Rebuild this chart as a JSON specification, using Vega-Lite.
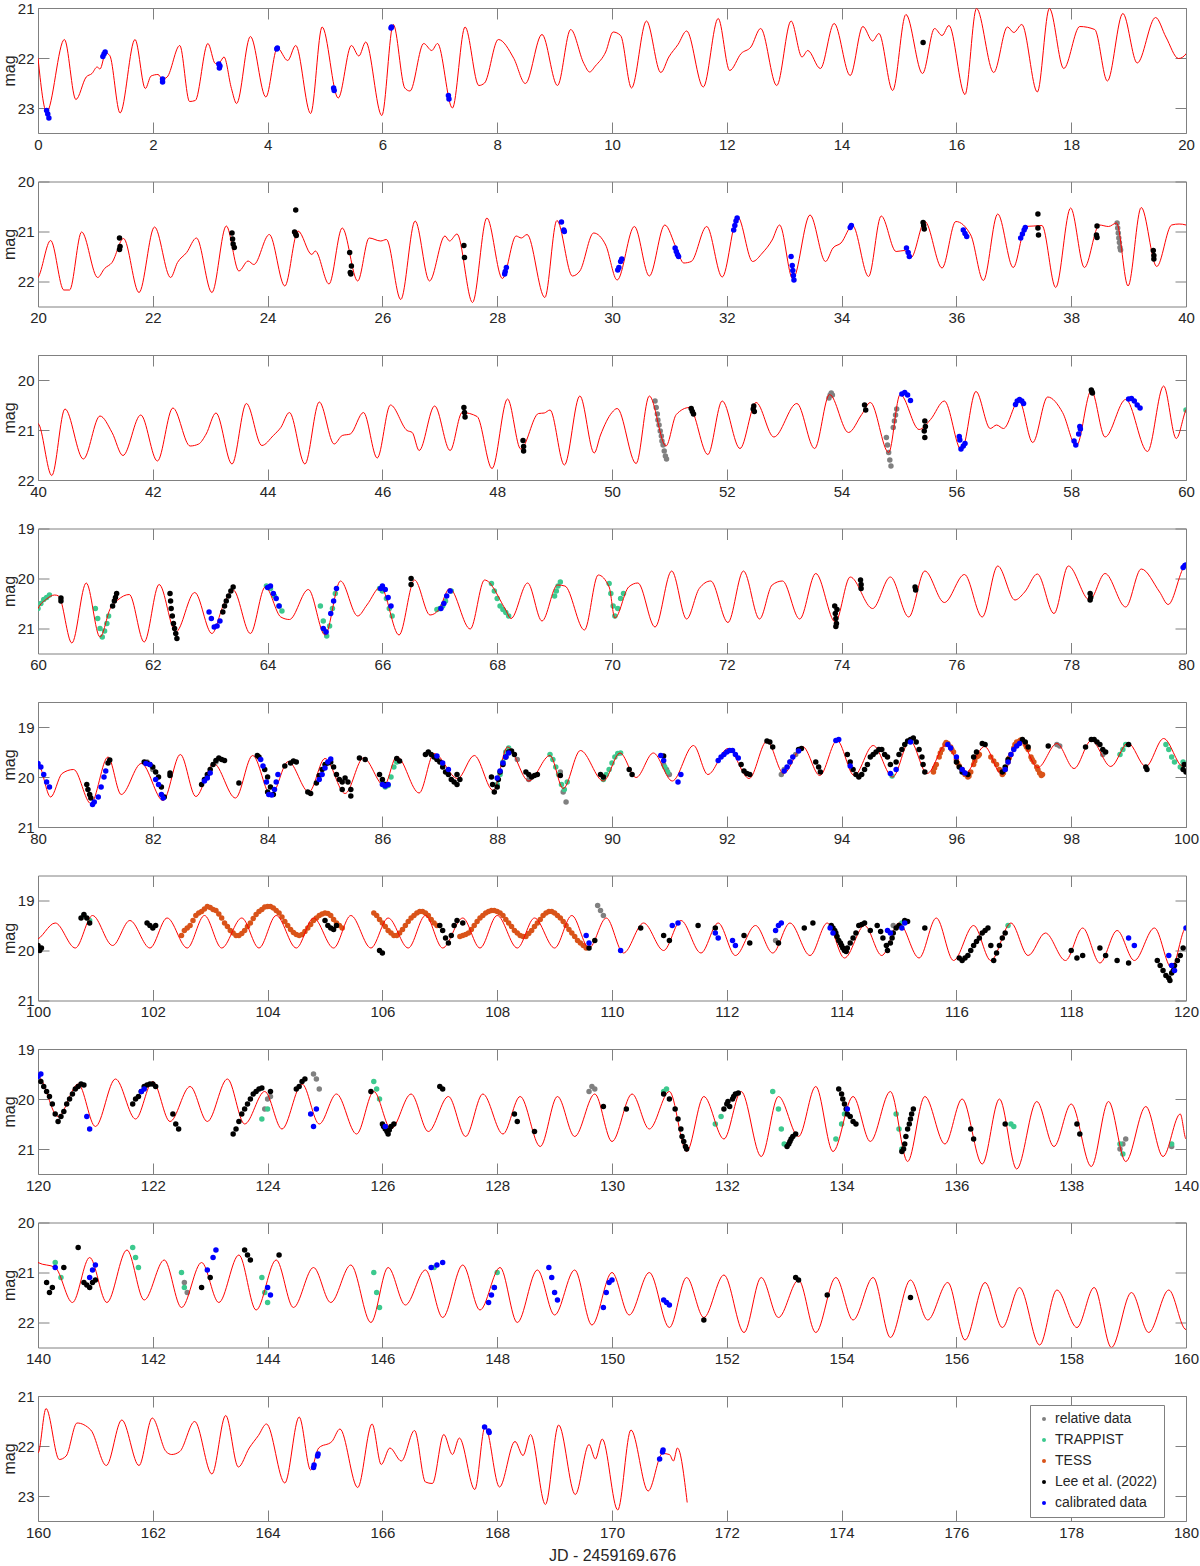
{
"$schema": "https://vega.github.io/schema/vega-lite/v6.json",
"background": "white",
"padding": {"left": 0, "right": 4, "top": 0, "bottom": 0},
"bounds": "flush",
"config": {
  "font": "Liberation Sans",
  "view": {"stroke": "#808080", "strokeWidth": 1},
  "concat": {"spacing": 48.5},
  "axis": {"grid": false, "domain": false, "ticks": true, "tickSize": -11, "tickColor": "#808080", "tickWidth": 1, "labelFont": "Liberation Sans", "labelFontSize": 15, "labelColor": "#262626", "labelFlush": false, "titleFont": "Liberation Sans", "titleFontSize": 16, "titleFontWeight": "normal", "titleColor": "#262626"},
  "axisX": {"labelPadding": 15, "titlePadding": 7},
  "axisY": {"labelPadding": 15, "titlePadding": 0},
  "axisTop": {"labels": false},
  "axisRight": {"labels": false},
  "legend": {"labelFont": "Liberation Sans", "labelFontSize": 14, "labelColor": "#262626", "symbolType": "circle", "symbolSize": 16, "symbolStrokeWidth": 0, "rowPadding": 7, "padding": 7, "strokeColor": "#808080", "fillColor": "white"}
},
"resolve": {"scale": {"color": "independent"}},
"datasets": {
"model": [
{"t":0,"m":22.0},{"t":0.15,"m":23.08},{"t":0.46,"m":21.63},{"t":0.66,"m":22.83},{"t":0.84,"m":22.38},{"t":0.94,"m":22.31},{"t":1.03,"m":22.18},{"t":1.08,"m":22.22},{"t":1.18,"m":21.9},{"t":1.25,"m":21.95},{"t":1.43,"m":23.1},{"t":1.69,"m":21.63},{"t":1.87,"m":22.61},{"t":1.97,"m":22.36},{"t":2.09,"m":22.33},{"t":2.17,"m":22.42},{"t":2.25,"m":22.38},{"t":2.47,"m":21.75},{"t":2.64,"m":22.87},{"t":2.74,"m":22.85},{"t":2.96,"m":21.71},{"t":3.09,"m":22.11},{"t":3.17,"m":22.08},{"t":3.24,"m":21.98},{"t":3.37,"m":22.61},{"t":3.46,"m":22.91},{"t":3.7,"m":21.57},{"t":3.97,"m":22.78},{"t":4.17,"m":21.8},{"t":4.35,"m":22.05},{"t":4.49,"m":21.75},{"t":4.75,"m":23.11},{"t":4.95,"m":21.38},{"t":5.23,"m":22.8},{"t":5.46,"m":21.75},{"t":5.59,"m":21.96},{"t":5.71,"m":21.68},{"t":5.99,"m":23.15},{"t":6.19,"m":21.33},{"t":6.39,"m":22.6},{"t":6.48,"m":22.66},{"t":6.72,"m":21.71},{"t":6.86,"m":21.85},{"t":6.96,"m":21.71},{"t":7.22,"m":23.0},{"t":7.44,"m":21.38},{"t":7.68,"m":22.55},{"t":7.78,"m":22.5},{"t":8.02,"m":21.63},{"t":8.29,"m":22.01},{"t":8.49,"m":22.51},{"t":8.78,"m":21.53},{"t":9.05,"m":22.55},{"t":9.28,"m":21.43},{"t":9.51,"m":22.11},{"t":9.61,"m":22.28},{"t":9.71,"m":22.16},{"t":9.89,"m":21.88},{"t":10.02,"m":21.48},{"t":10.15,"m":21.55},{"t":10.34,"m":22.6},{"t":10.6,"m":21.26},{"t":10.85,"m":22.29},{"t":10.99,"m":21.98},{"t":11.15,"m":21.73},{"t":11.3,"m":21.46},{"t":11.59,"m":22.58},{"t":11.85,"m":21.21},{"t":12.05,"m":22.25},{"t":12.25,"m":21.91},{"t":12.42,"m":21.78},{"t":12.59,"m":21.41},{"t":12.87,"m":22.55},{"t":13.12,"m":21.26},{"t":13.31,"m":21.98},{"t":13.41,"m":21.85},{"t":13.63,"m":22.21},{"t":13.87,"m":21.31},{"t":14.15,"m":22.35},{"t":14.37,"m":21.37},{"t":14.54,"m":21.66},{"t":14.65,"m":21.51},{"t":14.89,"m":22.65},{"t":15.12,"m":21.13},{"t":15.41,"m":22.31},{"t":15.62,"m":21.41},{"t":15.75,"m":21.55},{"t":15.87,"m":21.35},{"t":16.15,"m":22.73},{"t":16.35,"m":21.01},{"t":16.65,"m":22.29},{"t":16.89,"m":21.38},{"t":17.0,"m":21.49},{"t":17.14,"m":21.33},{"t":17.41,"m":22.68},{"t":17.62,"m":21.01},{"t":17.87,"m":22.21},{"t":18.15,"m":21.37},{"t":18.41,"m":21.43},{"t":18.63,"m":22.46},{"t":18.9,"m":21.11},{"t":19.15,"m":22.1},{"t":19.47,"m":21.19},{"t":19.65,"m":21.58},{"t":19.87,"m":22.01},{"t":20.0,"m":21.92},
{"t":20.22,"m":21.18},{"t":20.45,"m":22.17},{"t":20.55,"m":22.17},{"t":20.76,"m":21.01},{"t":21.04,"m":21.92},{"t":21.16,"m":21.74},{"t":21.29,"m":21.62},{"t":21.49,"m":21.14},{"t":21.76,"m":22.22},{"t":22.03,"m":20.91},{"t":22.31,"m":21.92},{"t":22.43,"m":21.62},{"t":22.59,"m":21.42},{"t":22.76,"m":21.13},{"t":23.03,"m":22.22},{"t":23.28,"m":20.89},{"t":23.5,"m":21.79},{"t":23.66,"m":21.59},{"t":23.76,"m":21.66},{"t":24.03,"m":21.06},{"t":24.3,"m":22.09},{"t":24.53,"m":20.99},{"t":24.77,"m":21.46},{"t":24.83,"m":21.39},{"t":25.07,"m":22.05},{"t":25.3,"m":20.93},{"t":25.57,"m":21.99},{"t":25.77,"m":21.13},{"t":25.97,"m":21.19},{"t":26.07,"m":21.16},{"t":26.32,"m":22.36},{"t":26.57,"m":20.79},{"t":26.82,"m":21.99},{"t":27.09,"m":21.09},{"t":27.17,"m":21.19},{"t":27.3,"m":21.05},{"t":27.57,"m":22.42},{"t":27.82,"m":20.73},{"t":28.09,"m":21.94},{"t":28.33,"m":21.09},{"t":28.42,"m":21.13},{"t":28.52,"m":21.06},{"t":28.83,"m":22.32},{"t":29.04,"m":20.78},{"t":29.31,"m":21.89},{"t":29.44,"m":21.79},{"t":29.68,"m":21.03},{"t":29.89,"m":21.27},{"t":30.09,"m":21.97},{"t":30.39,"m":20.9},{"t":30.65,"m":21.89},{"t":30.92,"m":20.87},{"t":31.12,"m":21.33},{"t":31.25,"m":21.63},{"t":31.38,"m":21.6},{"t":31.65,"m":20.9},{"t":31.92,"m":21.91},{"t":32.19,"m":20.71},{"t":32.45,"m":21.6},{"t":32.62,"m":21.43},{"t":32.79,"m":21.17},{"t":32.92,"m":20.87},{"t":33.15,"m":21.95},{"t":33.45,"m":20.67},{"t":33.72,"m":21.6},{"t":33.85,"m":21.33},{"t":33.99,"m":21.23},{"t":34.19,"m":20.88},{"t":34.47,"m":21.9},{"t":34.69,"m":20.69},{"t":34.95,"m":21.4},{"t":35.09,"m":21.38},{"t":35.21,"m":21.52},{"t":35.45,"m":20.8},{"t":35.75,"m":21.73},{"t":35.99,"m":20.8},{"t":36.25,"m":21.07},{"t":36.47,"m":21.98},{"t":36.72,"m":20.65},{"t":36.99,"m":21.72},{"t":37.21,"m":20.9},{"t":37.35,"m":20.89},{"t":37.49,"m":20.88},{"t":37.73,"m":22.12},{"t":37.99,"m":20.53},{"t":38.23,"m":21.72},{"t":38.49,"m":20.87},{"t":38.65,"m":20.9},{"t":38.79,"m":20.83},{"t":38.99,"m":22.09},{"t":39.22,"m":20.52},{"t":39.49,"m":21.7},{"t":39.75,"m":20.87},{"t":39.88,"m":20.85},{"t":40.0,"m":20.87},
{"t":40.24,"m":21.91},{"t":40.47,"m":20.58},{"t":40.79,"m":21.58},{"t":41.08,"m":20.72},{"t":41.29,"m":21.05},{"t":41.48,"m":21.51},{"t":41.79,"m":20.7},{"t":42.08,"m":21.62},{"t":42.35,"m":20.56},{"t":42.65,"m":21.32},{"t":42.8,"m":21.28},{"t":42.93,"m":21.08},{"t":43.1,"m":20.66},{"t":43.38,"m":21.68},{"t":43.63,"m":20.47},{"t":43.9,"m":21.31},{"t":44.1,"m":21.11},{"t":44.23,"m":20.95},{"t":44.38,"m":20.65},{"t":44.65,"m":21.68},{"t":44.9,"m":20.44},{"t":45.16,"m":21.28},{"t":45.3,"m":21.11},{"t":45.44,"m":21.08},{"t":45.67,"m":20.65},{"t":45.91,"m":21.56},{"t":46.14,"m":20.5},{"t":46.43,"m":21.01},{"t":46.52,"m":21.05},{"t":46.64,"m":21.41},{"t":46.91,"m":20.52},{"t":47.18,"m":21.41},{"t":47.39,"m":20.65},{"t":47.65,"m":20.73},{"t":47.91,"m":21.77},{"t":48.18,"m":20.38},{"t":48.41,"m":21.38},{"t":48.72,"m":20.67},{"t":48.82,"m":20.66},{"t":48.92,"m":20.6},{"t":49.17,"m":21.7},{"t":49.44,"m":20.32},{"t":49.69,"m":21.46},{"t":49.8,"m":21.1},{"t":50.0,"m":20.65},{"t":50.09,"m":20.57},{"t":50.42,"m":21.67},{"t":50.65,"m":20.32},{"t":50.94,"m":21.32},{"t":51.12,"m":20.69},{"t":51.35,"m":20.55},{"t":51.67,"m":21.49},{"t":51.92,"m":20.42},{"t":52.23,"m":21.37},{"t":52.51,"m":20.45},{"t":52.82,"m":21.14},{"t":53.22,"m":20.47},{"t":53.53,"m":21.37},{"t":53.79,"m":20.29},{"t":54.12,"m":21.05},{"t":54.35,"m":20.69},{"t":54.5,"m":20.45},{"t":54.82,"m":21.45},{"t":55.02,"m":20.29},{"t":55.35,"m":20.99},{"t":55.55,"m":20.79},{"t":55.79,"m":20.42},{"t":56.09,"m":21.41},{"t":56.34,"m":20.23},{"t":56.59,"m":20.97},{"t":56.7,"m":20.9},{"t":56.82,"m":20.97},{"t":57.09,"m":20.41},{"t":57.33,"m":21.25},{"t":57.59,"m":20.34},{"t":57.85,"m":20.65},{"t":58.09,"m":21.32},{"t":58.35,"m":20.21},{"t":58.59,"m":21.14},{"t":58.95,"m":20.39},{"t":59.33,"m":21.43},{"t":59.61,"m":20.12},{"t":59.83,"m":21.17},{"t":60.0,"m":20.6},
{"t":60.15,"m":20.41},{"t":60.29,"m":20.33},{"t":60.36,"m":20.35},{"t":60.59,"m":21.29},{"t":60.84,"m":20.09},{"t":61.08,"m":21.17},{"t":61.26,"m":20.6},{"t":61.39,"m":20.43},{"t":61.59,"m":20.32},{"t":61.85,"m":21.27},{"t":62.11,"m":20.12},{"t":62.4,"m":21.07},{"t":62.73,"m":20.28},{"t":63.03,"m":21.1},{"t":63.23,"m":20.53},{"t":63.4,"m":20.23},{"t":63.7,"m":21.1},{"t":63.96,"m":20.17},{"t":64.23,"m":20.77},{"t":64.38,"m":20.82},{"t":64.71,"m":20.22},{"t":65.0,"m":21.13},{"t":65.27,"m":20.05},{"t":65.57,"m":20.75},{"t":65.73,"m":20.53},{"t":65.97,"m":20.17},{"t":66.29,"m":21.13},{"t":66.56,"m":20.03},{"t":66.83,"m":20.73},{"t":66.98,"m":20.63},{"t":67.17,"m":20.2},{"t":67.53,"m":21.01},{"t":67.78,"m":20.03},{"t":68.14,"m":20.61},{"t":68.24,"m":20.8},{"t":68.53,"m":20.09},{"t":68.78,"m":20.85},{"t":69.05,"m":20.13},{"t":69.18,"m":20.15},{"t":69.52,"m":21.03},{"t":69.76,"m":19.93},{"t":69.95,"m":20.17},{"t":70.05,"m":20.79},{"t":70.29,"m":20.17},{"t":70.45,"m":20.09},{"t":70.75,"m":20.97},{"t":71.04,"m":19.85},{"t":71.3,"m":20.81},{"t":71.52,"m":20.2},{"t":71.72,"m":20.05},{"t":72.02,"m":20.88},{"t":72.29,"m":19.85},{"t":72.57,"m":20.81},{"t":72.79,"m":20.13},{"t":72.97,"m":20.05},{"t":73.27,"m":20.81},{"t":73.55,"m":19.9},{"t":73.89,"m":20.87},{"t":74.15,"m":19.97},{"t":74.54,"m":20.6},{"t":74.85,"m":19.97},{"t":75.17,"m":20.77},{"t":75.45,"m":19.85},{"t":75.79,"m":20.48},{"t":76.14,"m":19.92},{"t":76.45,"m":20.77},{"t":76.72,"m":19.75},{"t":77.02,"m":20.43},{"t":77.19,"m":20.27},{"t":77.41,"m":19.91},{"t":77.7,"m":20.7},{"t":77.95,"m":19.75},{"t":78.32,"m":20.43},{"t":78.59,"m":19.9},{"t":78.95,"m":20.57},{"t":79.22,"m":19.81},{"t":79.54,"m":20.27},{"t":79.69,"m":20.52},{"t":80.0,"m":19.74},
{"t":80.22,"m":20.4},{"t":80.42,"m":19.93},{"t":80.62,"m":19.85},{"t":80.92,"m":20.53},{"t":81.22,"m":19.6},{"t":81.45,"m":20.35},{"t":81.8,"m":19.73},{"t":82.18,"m":20.47},{"t":82.48,"m":19.55},{"t":82.75,"m":20.39},{"t":83.06,"m":19.73},{"t":83.44,"m":20.42},{"t":83.74,"m":19.57},{"t":84.06,"m":20.37},{"t":84.36,"m":19.69},{"t":84.72,"m":20.3},{"t":85.0,"m":19.63},{"t":85.35,"m":20.33},{"t":85.67,"m":19.62},{"t":86.03,"m":20.17},{"t":86.25,"m":19.59},{"t":86.64,"m":20.32},{"t":86.9,"m":19.53},{"t":87.31,"m":20.03},{"t":87.6,"m":19.57},{"t":87.93,"m":20.27},{"t":88.18,"m":19.4},{"t":88.55,"m":20.08},{"t":88.92,"m":19.57},{"t":89.15,"m":20.23},{"t":89.45,"m":19.47},{"t":89.85,"m":20.08},{"t":90.14,"m":19.52},{"t":90.42,"m":20.01},{"t":90.72,"m":19.52},{"t":91.05,"m":20.08},{"t":91.42,"m":19.37},{"t":91.67,"m":19.95},{"t":92.02,"m":19.43},{"t":92.39,"m":20.03},{"t":92.7,"m":19.28},{"t":92.99,"m":19.93},{"t":93.32,"m":19.39},{"t":93.62,"m":19.97},{"t":93.92,"m":19.27},{"t":94.22,"m":19.97},{"t":94.55,"m":19.37},{"t":94.89,"m":20.0},{"t":95.19,"m":19.27},{"t":95.49,"m":19.93},{"t":95.82,"m":19.35},{"t":96.15,"m":19.93},{"t":96.49,"m":19.39},{"t":96.79,"m":19.95},{"t":97.11,"m":19.27},{"t":97.42,"m":19.81},{"t":97.75,"m":19.33},{"t":98.05,"m":19.83},{"t":98.35,"m":19.27},{"t":98.69,"m":19.79},{"t":98.99,"m":19.32},{"t":99.3,"m":19.79},{"t":99.61,"m":19.23},{"t":99.95,"m":19.79},
{"t":100.3,"m":19.45},{"t":100.65,"m":19.95},{"t":100.95,"m":19.3},{"t":101.3,"m":19.9},{"t":101.6,"m":19.4},{"t":101.95,"m":19.95},{"t":102.25,"m":19.35},{"t":102.6,"m":19.95},{"t":102.9,"m":19.3},{"t":103.2,"m":19.95},{"t":103.55,"m":19.35},{"t":103.85,"m":19.95},{"t":104.15,"m":19.3},{"t":104.5,"m":19.95},{"t":104.8,"m":19.35},{"t":105.15,"m":19.95},{"t":105.45,"m":19.3},{"t":105.8,"m":19.95},{"t":106.1,"m":19.35},{"t":106.45,"m":19.95},{"t":106.75,"m":19.3},{"t":107.05,"m":19.95},{"t":107.4,"m":19.35},{"t":107.7,"m":19.95},{"t":108.0,"m":19.3},{"t":108.35,"m":19.95},{"t":108.65,"m":19.35},{"t":109.0,"m":19.95},{"t":109.3,"m":19.3},{"t":109.6,"m":19.95},{"t":109.9,"m":19.35},{"t":110.2,"m":20.05},{"t":110.55,"m":19.45},{"t":110.9,"m":20.0},{"t":111.2,"m":19.4},{"t":111.55,"m":20.05},{"t":111.85,"m":19.45},{"t":112.15,"m":20.1},{"t":112.5,"m":19.5},{"t":112.8,"m":20.05},{"t":113.1,"m":19.45},{"t":113.45,"m":20.1},{"t":113.75,"m":19.45},{"t":114.05,"m":20.15},{"t":114.4,"m":19.5},{"t":114.7,"m":20.1},{"t":115.0,"m":19.45},{"t":115.35,"m":20.15},{"t":115.65,"m":19.35},{"t":115.95,"m":20.2},{"t":116.3,"m":19.5},{"t":116.6,"m":20.2},{"t":116.95,"m":19.45},{"t":117.25,"m":20.1},{"t":117.55,"m":19.65},{"t":117.9,"m":20.2},{"t":118.2,"m":19.55},{"t":118.5,"m":20.25},{"t":118.8,"m":19.6},{"t":119.1,"m":20.2},{"t":119.45,"m":19.55},{"t":119.75,"m":20.35},{"t":120.0,"m":19.55},
{"t":120.35,"m":20.35},{"t":120.7,"m":19.7},{"t":121.0,"m":20.55},{"t":121.35,"m":19.6},{"t":121.7,"m":20.4},{"t":122.0,"m":19.65},{"t":122.3,"m":20.45},{"t":122.65,"m":19.75},{"t":122.95,"m":20.45},{"t":123.3,"m":19.6},{"t":123.6,"m":20.5},{"t":123.95,"m":19.85},{"t":124.25,"m":20.6},{"t":124.6,"m":19.7},{"t":124.9,"m":20.5},{"t":125.2,"m":19.9},{"t":125.55,"m":20.7},{"t":125.85,"m":19.85},{"t":126.15,"m":20.6},{"t":126.5,"m":19.9},{"t":126.8,"m":20.65},{"t":127.15,"m":19.95},{"t":127.45,"m":20.75},{"t":127.75,"m":19.9},{"t":128.1,"m":20.7},{"t":128.4,"m":19.95},{"t":128.75,"m":20.95},{"t":129.05,"m":19.95},{"t":129.35,"m":20.75},{"t":129.7,"m":19.9},{"t":130.0,"m":20.85},{"t":130.35,"m":19.9},{"t":130.65,"m":20.6},{"t":131.0,"m":19.85},{"t":131.3,"m":21.05},{"t":131.6,"m":19.95},{"t":131.95,"m":20.8},{"t":132.25,"m":19.85},{"t":132.6,"m":21.15},{"t":132.9,"m":19.95},{"t":133.25,"m":20.75},{"t":133.55,"m":19.75},{"t":133.85,"m":21.05},{"t":134.2,"m":19.95},{"t":134.5,"m":20.85},{"t":134.85,"m":19.85},{"t":135.15,"m":21.25},{"t":135.45,"m":19.95},{"t":135.8,"m":20.9},{"t":136.1,"m":20.0},{"t":136.45,"m":21.3},{"t":136.75,"m":20.0},{"t":137.05,"m":21.4},{"t":137.4,"m":20.05},{"t":137.7,"m":20.95},{"t":138.0,"m":20.1},{"t":138.35,"m":21.35},{"t":138.65,"m":20.05},{"t":138.95,"m":21.25},{"t":139.3,"m":20.15},{"t":139.6,"m":21.15},{"t":139.9,"m":20.3},{"t":140.0,"m":20.8},
{"t":140.3,"m":20.9},{"t":140.6,"m":21.6},{"t":140.9,"m":20.7},{"t":141.2,"m":21.6},{"t":141.55,"m":20.55},{"t":141.85,"m":21.55},{"t":142.2,"m":20.75},{"t":142.5,"m":21.7},{"t":142.85,"m":20.8},{"t":143.15,"m":21.6},{"t":143.5,"m":20.65},{"t":143.8,"m":21.75},{"t":144.15,"m":20.75},{"t":144.45,"m":21.7},{"t":144.8,"m":20.9},{"t":145.1,"m":21.6},{"t":145.45,"m":20.85},{"t":145.8,"m":22.0},{"t":146.1,"m":20.9},{"t":146.4,"m":21.65},{"t":146.75,"m":20.95},{"t":147.05,"m":21.9},{"t":147.4,"m":20.85},{"t":147.7,"m":21.75},{"t":148.05,"m":20.9},{"t":148.35,"m":22.0},{"t":148.7,"m":20.95},{"t":149.0,"m":21.85},{"t":149.35,"m":20.95},{"t":149.65,"m":22.05},{"t":150.0,"m":21.0},{"t":150.3,"m":21.85},{"t":150.65,"m":21.0},{"t":151.0,"m":22.1},{"t":151.3,"m":21.1},{"t":151.6,"m":21.9},{"t":151.95,"m":21.05},{"t":152.3,"m":22.2},{"t":152.6,"m":21.1},{"t":152.9,"m":21.9},{"t":153.25,"m":21.15},{"t":153.55,"m":22.2},{"t":153.9,"m":21.1},{"t":154.2,"m":21.95},{"t":154.55,"m":21.1},{"t":154.85,"m":22.3},{"t":155.2,"m":21.15},{"t":155.5,"m":21.95},{"t":155.85,"m":21.2},{"t":156.15,"m":22.35},{"t":156.5,"m":21.2},{"t":156.8,"m":22.1},{"t":157.1,"m":21.3},{"t":157.45,"m":22.45},{"t":157.75,"m":21.35},{"t":158.1,"m":22.1},{"t":158.4,"m":21.3},{"t":158.7,"m":22.5},{"t":159.05,"m":21.4},{"t":159.35,"m":22.2},{"t":159.7,"m":21.35},{"t":160.0,"m":22.14},
{"t":160.14,"m":21.25},{"t":160.37,"m":22.27},{"t":160.49,"m":22.2},{"t":160.68,"m":21.54},{"t":160.92,"m":21.68},{"t":161.19,"m":22.39},{"t":161.46,"m":21.48},{"t":161.76,"m":22.39},{"t":161.99,"m":21.44},{"t":162.23,"m":22.11},{"t":162.33,"m":22.17},{"t":162.47,"m":22.11},{"t":162.73,"m":21.51},{"t":163.03,"m":22.56},{"t":163.27,"m":21.39},{"t":163.49,"m":22.42},{"t":163.68,"m":22.04},{"t":163.84,"m":21.79},{"t":163.98,"m":21.56},{"t":164.3,"m":22.74},{"t":164.55,"m":21.42},{"t":164.75,"m":22.48},{"t":164.89,"m":22.04},{"t":165.12,"m":21.91},{"t":165.26,"m":21.66},{"t":165.57,"m":22.83},{"t":165.82,"m":21.56},{"t":165.98,"m":22.37},{"t":166.13,"m":22.04},{"t":166.33,"m":22.3},{"t":166.56,"m":21.69},{"t":166.75,"m":22.72},{"t":166.87,"m":22.75},{"t":167.07,"m":21.77},{"t":167.22,"m":22.17},{"t":167.34,"m":21.84},{"t":167.61,"m":22.87},{"t":167.79,"m":21.61},{"t":168.04,"m":22.82},{"t":168.31,"m":21.91},{"t":168.45,"m":22.19},{"t":168.58,"m":21.77},{"t":168.84,"m":23.17},{"t":169.07,"m":21.58},{"t":169.36,"m":22.97},{"t":169.6,"m":21.97},{"t":169.71,"m":22.26},{"t":169.83,"m":21.86},{"t":170.1,"m":23.28},{"t":170.33,"m":21.68},{"t":170.63,"m":22.9},{"t":170.88,"m":22.15},{"t":171.0,"m":22.17},{"t":171.07,"m":22.3},{"t":171.14,"m":22.04},{"t":171.31,"m":23.13}
],
"obs": [
{"t":38.8,"m":20.83,"s":"R"},{"t":38.81,"m":20.93,"s":"R"},{"t":38.82,"m":21.03,"s":"R"},{"t":38.83,"m":21.13,"s":"R"},{"t":38.84,"m":21.22,"s":"R"},{"t":38.85,"m":21.32,"s":"R"},{"t":38.86,"m":21.37,"s":"R"},
{"t":50.75,"m":20.42,"s":"R"},{"t":50.77,"m":20.55,"s":"R"},{"t":50.79,"m":20.68,"s":"R"},{"t":50.8,"m":20.8,"s":"R"},{"t":50.82,"m":20.9,"s":"R"},{"t":50.84,"m":21.02,"s":"R"},{"t":50.86,"m":21.12,"s":"R"},{"t":50.87,"m":21.22,"s":"R"},{"t":50.89,"m":21.3,"s":"R"},{"t":50.91,"m":21.42,"s":"R"},{"t":50.93,"m":21.52,"s":"R"},{"t":50.95,"m":21.58,"s":"R"},
{"t":53.78,"m":20.36,"s":"R"},{"t":53.8,"m":20.3,"s":"R"},{"t":53.82,"m":20.26,"s":"R"},{"t":53.84,"m":20.3,"s":"R"},
{"t":54.78,"m":21.15,"s":"R"},{"t":54.8,"m":21.3,"s":"R"},{"t":54.82,"m":21.45,"s":"R"},{"t":54.84,"m":21.6,"s":"R"},{"t":54.86,"m":21.72,"s":"R"},{"t":54.9,"m":20.95,"s":"R"},{"t":54.92,"m":20.82,"s":"R"},{"t":54.94,"m":20.7,"s":"R"},{"t":54.96,"m":20.58,"s":"R"},
{"t":81.9,"m":19.7,"s":"R"},{"t":82.0,"m":19.85,"s":"R"},{"t":82.95,"m":20.0,"s":"R"},{"t":83.1,"m":19.7,"s":"R"},{"t":88.35,"m":19.65,"s":"R"},{"t":88.55,"m":20.05,"s":"R"},{"t":89.15,"m":20.3,"s":"R"},{"t":89.2,"m":20.5,"s":"R"},{"t":89.1,"m":19.9,"s":"R"},{"t":90.9,"m":19.75,"s":"R"},{"t":90.95,"m":19.85,"s":"R"},{"t":91.0,"m":19.95,"s":"R"},{"t":92.95,"m":19.95,"s":"R"},{"t":93.0,"m":19.85,"s":"R"},{"t":93.1,"m":19.7,"s":"R"},{"t":93.2,"m":19.55,"s":"R"},{"t":97.75,"m":19.35,"s":"R"},{"t":97.8,"m":19.38,"s":"R"},{"t":98.55,"m":19.55,"s":"R"},
{"t":109.75,"m":19.1,"s":"R"},{"t":109.8,"m":19.2,"s":"R"},{"t":109.85,"m":19.3,"s":"R"},{"t":112.85,"m":19.8,"s":"R"},{"t":112.9,"m":19.85,"s":"R"},{"t":114.9,"m":19.5,"s":"R"},
{"t":123.95,"m":20.2,"s":"R"},{"t":124.0,"m":20.0,"s":"R"},{"t":124.05,"m":19.95,"s":"R"},{"t":124.8,"m":19.5,"s":"R"},{"t":124.85,"m":19.6,"s":"R"},{"t":124.9,"m":19.8,"s":"R"},{"t":129.6,"m":19.85,"s":"R"},{"t":129.65,"m":19.75,"s":"R"},{"t":129.7,"m":19.8,"s":"R"},{"t":138.85,"m":21.0,"s":"R"},{"t":138.9,"m":20.9,"s":"R"},{"t":138.95,"m":20.8,"s":"R"},{"t":139.75,"m":20.95,"s":"R"},{"t":142.55,"m":21.2,"s":"R"},{"t":142.6,"m":21.4,"s":"R"},
{"t":60.0,"m":20.6,"s":"T"},{"t":60.05,"m":20.5,"s":"T"},{"t":60.1,"m":20.42,"s":"T"},{"t":60.15,"m":20.38,"s":"T"},{"t":60.2,"m":20.33,"s":"T"},
{"t":61.0,"m":20.6,"s":"T"},{"t":61.04,"m":20.8,"s":"T"},{"t":61.08,"m":21.0,"s":"T"},{"t":61.12,"m":21.17,"s":"T"},{"t":61.16,"m":21.05,"s":"T"},{"t":61.2,"m":20.9,"s":"T"},{"t":61.23,"m":20.75,"s":"T"},
{"t":63.98,"m":20.15,"s":"T"},{"t":64.05,"m":20.2,"s":"T"},{"t":64.12,"m":20.35,"s":"T"},{"t":64.2,"m":20.55,"s":"T"},{"t":64.25,"m":20.65,"s":"T"},
{"t":64.92,"m":20.55,"s":"T"},{"t":64.97,"m":20.85,"s":"T"},{"t":65.0,"m":21.05,"s":"T"},{"t":65.03,"m":21.15,"s":"T"},{"t":65.08,"m":20.95,"s":"T"},{"t":65.13,"m":20.6,"s":"T"},{"t":65.18,"m":20.3,"s":"T"},
{"t":65.95,"m":20.2,"s":"T"},{"t":66.0,"m":20.25,"s":"T"},{"t":66.07,"m":20.4,"s":"T"},{"t":66.12,"m":20.6,"s":"T"},{"t":66.17,"m":20.75,"s":"T"},
{"t":66.95,"m":20.62,"s":"T"},{"t":67.0,"m":20.6,"s":"T"},{"t":67.05,"m":20.55,"s":"T"},{"t":67.1,"m":20.45,"s":"T"},{"t":67.2,"m":20.25,"s":"T"},
{"t":67.9,"m":20.1,"s":"T"},{"t":67.95,"m":20.25,"s":"T"},{"t":68.0,"m":20.4,"s":"T"},{"t":68.05,"m":20.55,"s":"T"},{"t":68.1,"m":20.62,"s":"T"},{"t":68.15,"m":20.68,"s":"T"},{"t":68.2,"m":20.75,"s":"T"},
{"t":69.0,"m":20.35,"s":"T"},{"t":69.03,"m":20.25,"s":"T"},{"t":69.06,"m":20.15,"s":"T"},{"t":69.1,"m":20.07,"s":"T"},
{"t":69.95,"m":20.1,"s":"T"},{"t":69.98,"m":20.3,"s":"T"},{"t":70.02,"m":20.55,"s":"T"},{"t":70.05,"m":20.75,"s":"T"},{"t":70.1,"m":20.6,"s":"T"},{"t":70.15,"m":20.4,"s":"T"},{"t":70.2,"m":20.3,"s":"T"},
{"t":86.0,"m":20.1,"s":"T"},{"t":86.05,"m":20.2,"s":"T"},{"t":86.1,"m":20.17,"s":"T"},{"t":86.15,"m":20.0,"s":"T"},{"t":86.2,"m":19.8,"s":"T"},{"t":86.25,"m":19.7,"s":"T"},
{"t":88.0,"m":20.15,"s":"T"},{"t":88.05,"m":19.95,"s":"T"},{"t":88.1,"m":19.7,"s":"T"},{"t":88.15,"m":19.5,"s":"T"},{"t":88.2,"m":19.42,"s":"T"},
{"t":88.92,"m":19.55,"s":"T"},{"t":88.97,"m":19.65,"s":"T"},{"t":89.02,"m":19.8,"s":"T"},{"t":89.07,"m":19.95,"s":"T"},{"t":89.12,"m":20.15,"s":"T"},{"t":89.17,"m":20.25,"s":"T"},{"t":89.22,"m":20.1,"s":"T"},
{"t":89.85,"m":20.05,"s":"T"},{"t":89.9,"m":19.95,"s":"T"},{"t":89.95,"m":19.85,"s":"T"},{"t":90.0,"m":19.72,"s":"T"},{"t":90.05,"m":19.6,"s":"T"},{"t":90.1,"m":19.53,"s":"T"},{"t":90.15,"m":19.52,"s":"T"},
{"t":90.92,"m":19.8,"s":"T"},{"t":90.97,"m":19.9,"s":"T"},{"t":94.88,"m":19.98,"s":"T"},{"t":98.85,"m":19.55,"s":"T"},{"t":98.9,"m":19.45,"s":"T"},{"t":98.95,"m":19.35,"s":"T"},
{"t":99.65,"m":19.35,"s":"T"},{"t":99.7,"m":19.45,"s":"T"},{"t":99.75,"m":19.6,"s":"T"},{"t":99.8,"m":19.7,"s":"T"},{"t":99.9,"m":19.8,"s":"T"},{"t":99.95,"m":19.7,"s":"T"},
{"t":100.8,"m":19.3,"s":"T"},{"t":100.9,"m":19.4,"s":"T"},{"t":115.05,"m":19.45,"s":"T"},{"t":116.9,"m":19.5,"s":"T"},
{"t":123.9,"m":20.4,"s":"T"},{"t":124.0,"m":20.2,"s":"T"},{"t":125.85,"m":19.65,"s":"T"},{"t":125.9,"m":19.8,"s":"T"},{"t":125.95,"m":20.0,"s":"T"},{"t":130.9,"m":19.85,"s":"T"},{"t":130.95,"m":19.8,"s":"T"},{"t":131.8,"m":20.5,"s":"T"},{"t":131.9,"m":20.35,"s":"T"},{"t":132.8,"m":19.85,"s":"T"},{"t":132.9,"m":20.2,"s":"T"},{"t":132.95,"m":20.6,"s":"T"},{"t":133.0,"m":20.9,"s":"T"},{"t":133.9,"m":20.8,"s":"T"},{"t":134.0,"m":20.5,"s":"T"},{"t":134.05,"m":20.3,"s":"T"},{"t":134.95,"m":20.3,"s":"T"},{"t":135.0,"m":20.6,"s":"T"},{"t":135.05,"m":21.0,"s":"T"},{"t":136.95,"m":20.5,"s":"T"},{"t":137.0,"m":20.55,"s":"T"},{"t":138.85,"m":20.9,"s":"T"},{"t":138.9,"m":21.1,"s":"T"},{"t":139.75,"m":20.9,"s":"T"},
{"t":140.3,"m":20.8,"s":"T"},{"t":140.4,"m":21.1,"s":"T"},{"t":141.65,"m":20.5,"s":"T"},{"t":141.7,"m":20.7,"s":"T"},{"t":141.75,"m":20.9,"s":"T"},{"t":142.5,"m":21.0,"s":"T"},{"t":142.55,"m":21.3,"s":"T"},{"t":143.9,"m":21.1,"s":"T"},{"t":143.95,"m":21.4,"s":"T"},{"t":144.0,"m":21.6,"s":"T"},{"t":145.85,"m":21.0,"s":"T"},{"t":145.9,"m":21.4,"s":"T"},{"t":145.95,"m":21.7,"s":"T"},{"t":146.9,"m":20.9,"s":"T"},{"t":147.95,"m":21.3,"s":"T"},{"t":148.0,"m":21.0,"s":"T"},
{"t":95.6,"m":19.9,"s":"S"},{"t":95.65,"m":19.75,"s":"S"},{"t":95.7,"m":19.6,"s":"S"},{"t":95.75,"m":19.45,"s":"S"},{"t":95.8,"m":19.35,"s":"S"},{"t":95.85,"m":19.33,"s":"S"},{"t":95.9,"m":19.4,"s":"S"},{"t":95.95,"m":19.5,"s":"S"},{"t":96.0,"m":19.65,"s":"S"},{"t":96.05,"m":19.78,"s":"S"},{"t":96.1,"m":19.85,"s":"S"},{"t":96.15,"m":19.95,"s":"S"},{"t":96.2,"m":20.0,"s":"S"},{"t":96.25,"m":19.9,"s":"S"},{"t":96.3,"m":19.75,"s":"S"},{"t":96.35,"m":19.6,"s":"S"},{"t":96.4,"m":19.55,"s":"S"},
{"t":96.6,"m":19.6,"s":"S"},{"t":96.7,"m":19.75,"s":"S"},{"t":96.8,"m":19.95,"s":"S"},{"t":96.85,"m":19.85,"s":"S"},{"t":96.9,"m":19.7,"s":"S"},{"t":96.95,"m":19.55,"s":"S"},{"t":97.0,"m":19.42,"s":"S"},{"t":97.05,"m":19.3,"s":"S"},{"t":97.1,"m":19.28,"s":"S"},{"t":97.15,"m":19.28,"s":"S"},{"t":97.2,"m":19.35,"s":"S"},{"t":97.25,"m":19.45,"s":"S"},{"t":97.3,"m":19.6,"s":"S"},{"t":97.35,"m":19.7,"s":"S"},{"t":97.4,"m":19.8,"s":"S"},{"t":97.45,"m":19.92,"s":"S"},{"t":97.5,"m":19.95,"s":"S"},
{"t":95.62,"m":19.82,"s":"S"},{"t":95.72,"m":19.52,"s":"S"},{"t":95.82,"m":19.31,"s":"S"},{"t":95.92,"m":19.45,"s":"S"},{"t":96.02,"m":19.72,"s":"S"},{"t":96.12,"m":19.9,"s":"S"},{"t":96.22,"m":19.98,"s":"S"},{"t":96.32,"m":19.68,"s":"S"},{"t":96.38,"m":19.58,"s":"S"},{"t":96.65,"m":19.68,"s":"S"},{"t":96.75,"m":19.85,"s":"S"},{"t":96.82,"m":19.92,"s":"S"},{"t":96.92,"m":19.62,"s":"S"},{"t":97.02,"m":19.35,"s":"S"},{"t":97.12,"m":19.26,"s":"S"},{"t":97.22,"m":19.4,"s":"S"},{"t":97.32,"m":19.65,"s":"S"},{"t":97.42,"m":19.85,"s":"S"},{"t":97.48,"m":19.97,"s":"S"},
{"t":102.5,"m":19.7,"s":"S"},{"t":102.6,"m":19.55,"s":"S"},{"t":102.7,"m":19.4,"s":"S"},{"t":102.8,"m":19.25,"s":"S"},{"t":102.9,"m":19.17,"s":"S"},{"t":103.0,"m":19.14,"s":"S"},{"t":103.1,"m":19.2,"s":"S"},{"t":103.2,"m":19.35,"s":"S"},{"t":103.3,"m":19.52,"s":"S"},{"t":103.4,"m":19.65,"s":"S"},{"t":103.5,"m":19.7,"s":"S"},{"t":103.6,"m":19.6,"s":"S"},{"t":103.7,"m":19.45,"s":"S"},{"t":103.8,"m":19.28,"s":"S"},{"t":103.9,"m":19.18,"s":"S"},{"t":104.0,"m":19.12,"s":"S"},{"t":104.1,"m":19.15,"s":"S"},{"t":104.2,"m":19.25,"s":"S"},{"t":104.3,"m":19.42,"s":"S"},{"t":104.4,"m":19.58,"s":"S"},{"t":104.5,"m":19.68,"s":"S"},{"t":104.6,"m":19.68,"s":"S"},{"t":104.7,"m":19.55,"s":"S"},{"t":104.8,"m":19.4,"s":"S"},{"t":104.9,"m":19.3,"s":"S"},{"t":105.0,"m":19.25,"s":"S"},{"t":105.1,"m":19.3,"s":"S"},{"t":105.2,"m":19.45,"s":"S"},{"t":105.9,"m":19.3,"s":"S"},{"t":106.0,"m":19.45,"s":"S"},{"t":106.1,"m":19.6,"s":"S"},{"t":106.2,"m":19.7,"s":"S"},{"t":106.3,"m":19.65,"s":"S"},{"t":106.4,"m":19.5,"s":"S"},{"t":106.5,"m":19.35,"s":"S"},{"t":106.6,"m":19.25,"s":"S"},{"t":106.7,"m":19.22,"s":"S"},{"t":106.8,"m":19.3,"s":"S"},{"t":106.9,"m":19.45,"s":"S"},{"t":107.4,"m":19.7,"s":"S"},{"t":107.5,"m":19.65,"s":"S"},{"t":107.6,"m":19.5,"s":"S"},{"t":107.7,"m":19.35,"s":"S"},{"t":107.8,"m":19.25,"s":"S"},{"t":107.9,"m":19.2,"s":"S"},{"t":108.0,"m":19.22,"s":"S"},{"t":108.1,"m":19.3,"s":"S"},{"t":108.2,"m":19.45,"s":"S"},{"t":108.3,"m":19.6,"s":"S"},{"t":108.4,"m":19.7,"s":"S"},{"t":108.5,"m":19.72,"s":"S"},{"t":108.6,"m":19.6,"s":"S"},{"t":108.7,"m":19.45,"s":"S"},{"t":108.8,"m":19.3,"s":"S"},{"t":108.9,"m":19.22,"s":"S"},{"t":109.0,"m":19.25,"s":"S"},{"t":109.1,"m":19.35,"s":"S"},{"t":109.2,"m":19.5,"s":"S"},{"t":109.3,"m":19.65,"s":"S"},{"t":109.4,"m":19.8,"s":"S"},{"t":109.5,"m":19.9,"s":"S"},
{"t":102.55,"m":19.6,"s":"S"},{"t":102.65,"m":19.5,"s":"S"},{"t":102.75,"m":19.3,"s":"S"},{"t":102.85,"m":19.22,"s":"S"},{"t":102.95,"m":19.12,"s":"S"},{"t":103.05,"m":19.18,"s":"S"},{"t":103.15,"m":19.27,"s":"S"},{"t":103.25,"m":19.45,"s":"S"},{"t":103.35,"m":19.6,"s":"S"},{"t":103.45,"m":19.7,"s":"S"},{"t":103.55,"m":19.66,"s":"S"},{"t":103.65,"m":19.52,"s":"S"},{"t":103.75,"m":19.36,"s":"S"},{"t":103.85,"m":19.22,"s":"S"},{"t":103.95,"m":19.13,"s":"S"},{"t":104.05,"m":19.12,"s":"S"},{"t":104.15,"m":19.2,"s":"S"},{"t":104.25,"m":19.33,"s":"S"},{"t":104.35,"m":19.5,"s":"S"},{"t":104.45,"m":19.64,"s":"S"},{"t":104.55,"m":19.7,"s":"S"},{"t":104.65,"m":19.62,"s":"S"},{"t":104.75,"m":19.48,"s":"S"},{"t":104.85,"m":19.35,"s":"S"},{"t":104.95,"m":19.27,"s":"S"},{"t":105.05,"m":19.26,"s":"S"},{"t":105.15,"m":19.38,"s":"S"},{"t":105.25,"m":19.5,"s":"S"},{"t":105.3,"m":19.55,"s":"S"},{"t":105.85,"m":19.25,"s":"S"},{"t":105.95,"m":19.38,"s":"S"},{"t":106.05,"m":19.52,"s":"S"},{"t":106.15,"m":19.65,"s":"S"},{"t":106.25,"m":19.7,"s":"S"},{"t":106.35,"m":19.58,"s":"S"},{"t":106.45,"m":19.42,"s":"S"},{"t":106.55,"m":19.3,"s":"S"},{"t":106.65,"m":19.22,"s":"S"},{"t":106.75,"m":19.25,"s":"S"},{"t":106.85,"m":19.38,"s":"S"},{"t":106.95,"m":19.5,"s":"S"},{"t":107.35,"m":19.72,"s":"S"},{"t":107.45,"m":19.68,"s":"S"},{"t":107.55,"m":19.58,"s":"S"},{"t":107.65,"m":19.42,"s":"S"},{"t":107.75,"m":19.3,"s":"S"},{"t":107.85,"m":19.22,"s":"S"},{"t":107.95,"m":19.2,"s":"S"},{"t":108.05,"m":19.25,"s":"S"},{"t":108.15,"m":19.38,"s":"S"},{"t":108.25,"m":19.52,"s":"S"},{"t":108.35,"m":19.65,"s":"S"},{"t":108.45,"m":19.72,"s":"S"},{"t":108.55,"m":19.66,"s":"S"},{"t":108.65,"m":19.52,"s":"S"},{"t":108.75,"m":19.38,"s":"S"},{"t":108.85,"m":19.25,"s":"S"},{"t":108.95,"m":19.22,"s":"S"},{"t":109.05,"m":19.3,"s":"S"},{"t":109.15,"m":19.42,"s":"S"},{"t":109.25,"m":19.58,"s":"S"},{"t":109.35,"m":19.72,"s":"S"},{"t":109.45,"m":19.85,"s":"S"},{"t":109.55,"m":19.95,"s":"S"},
{"t":15.42,"m":21.69,"s":"L"},
{"t":21.42,"m":21.13,"s":"L"},{"t":21.42,"m":21.36,"s":"L"},{"t":21.43,"m":21.3,"s":"L"},{"t":23.38,"m":21.03,"s":"L"},{"t":23.39,"m":21.15,"s":"L"},{"t":23.4,"m":21.25,"s":"L"},{"t":23.42,"m":21.32,"s":"L"},{"t":24.47,"m":21.01,"s":"L"},{"t":24.49,"m":21.05,"s":"L"},{"t":24.5,"m":21.08,"s":"L"},{"t":24.49,"m":20.57,"s":"L"},{"t":25.43,"m":21.42,"s":"L"},{"t":25.44,"m":21.82,"s":"L"},{"t":25.45,"m":21.85,"s":"L"},{"t":25.46,"m":21.69,"s":"L"},{"t":27.42,"m":21.28,"s":"L"},{"t":27.43,"m":21.52,"s":"L"},
{"t":35.42,"m":20.82,"s":"L"},{"t":35.43,"m":20.88,"s":"L"},{"t":35.44,"m":20.95,"s":"L"},{"t":37.42,"m":20.65,"s":"L"},{"t":37.42,"m":20.93,"s":"L"},{"t":37.43,"m":21.07,"s":"L"},{"t":38.45,"m":20.89,"s":"L"},{"t":38.44,"m":21.07,"s":"L"},{"t":38.45,"m":21.12,"s":"L"},{"t":39.43,"m":21.38,"s":"L"},{"t":39.44,"m":21.48,"s":"L"},{"t":39.44,"m":21.55,"s":"L"},
{"t":47.42,"m":20.55,"s":"L"},{"t":47.43,"m":20.65,"s":"L"},{"t":47.44,"m":20.74,"s":"L"},{"t":48.45,"m":21.21,"s":"L"},{"t":48.46,"m":21.33,"s":"L"},{"t":48.46,"m":21.42,"s":"L"},{"t":51.38,"m":20.57,"s":"L"},{"t":51.4,"m":20.63,"s":"L"},{"t":51.42,"m":20.68,"s":"L"},{"t":52.46,"m":20.58,"s":"L"},{"t":52.47,"m":20.52,"s":"L"},{"t":52.48,"m":20.63,"s":"L"},{"t":54.4,"m":20.5,"s":"L"},{"t":54.42,"m":20.6,"s":"L"},{"t":55.45,"m":20.82,"s":"L"},{"t":55.46,"m":20.93,"s":"L"},{"t":55.44,"m":21.02,"s":"L"},{"t":55.45,"m":21.15,"s":"L"},{"t":58.35,"m":20.2,"s":"L"},{"t":58.36,"m":20.23,"s":"L"},{"t":58.37,"m":20.26,"s":"L"},
{"t":60.4,"m":20.39,"s":"L"},{"t":60.4,"m":20.45,"s":"L"},{"t":61.3,"m":20.55,"s":"L"},{"t":61.33,"m":20.45,"s":"L"},{"t":61.35,"m":20.38,"s":"L"},{"t":61.37,"m":20.3,"s":"L"},{"t":62.3,"m":20.3,"s":"L"},{"t":62.31,"m":20.45,"s":"L"},{"t":62.32,"m":20.6,"s":"L"},{"t":62.34,"m":20.75,"s":"L"},{"t":62.36,"m":20.9,"s":"L"},{"t":62.38,"m":21.0,"s":"L"},{"t":62.4,"m":21.1,"s":"L"},{"t":62.42,"m":21.2,"s":"L"},{"t":63.22,"m":20.67,"s":"L"},{"t":63.25,"m":20.55,"s":"L"},{"t":63.28,"m":20.45,"s":"L"},{"t":63.32,"m":20.35,"s":"L"},{"t":63.36,"m":20.25,"s":"L"},{"t":63.4,"m":20.17,"s":"L"},{"t":66.5,"m":20.0,"s":"L"},{"t":66.5,"m":20.12,"s":"L"},
{"t":73.88,"m":20.55,"s":"L"},{"t":73.89,"m":20.7,"s":"L"},{"t":73.9,"m":20.8,"s":"L"},{"t":73.91,"m":20.9,"s":"L"},{"t":73.9,"m":20.96,"s":"L"},{"t":73.92,"m":20.62,"s":"L"},{"t":74.33,"m":20.03,"s":"L"},{"t":74.34,"m":20.12,"s":"L"},{"t":74.34,"m":20.2,"s":"L"},{"t":75.28,"m":20.17,"s":"L"},{"t":75.29,"m":20.23,"s":"L"},{"t":78.33,"m":20.3,"s":"L"},{"t":78.34,"m":20.38,"s":"L"},{"t":78.33,"m":20.43,"s":"L"},
{"t":80.85,"m":20.15,"s":"L"},{"t":80.87,"m":20.25,"s":"L"},{"t":80.9,"m":20.35,"s":"L"},{"t":80.92,"m":20.42,"s":"L"},{"t":81.22,"m":19.72,"s":"L"},{"t":81.25,"m":19.66,"s":"L"},
{"t":81.85,"m":19.7,"s":"L"},{"t":81.9,"m":19.72,"s":"L"},{"t":81.95,"m":19.75,"s":"L"},{"t":82.0,"m":19.8,"s":"L"},{"t":82.05,"m":19.9,"s":"L"},{"t":82.1,"m":20.0,"s":"L"},{"t":82.15,"m":20.2,"s":"L"},{"t":82.2,"m":20.4,"s":"L"},{"t":82.3,"m":19.92,"s":"L"},{"t":82.3,"m":19.97,"s":"L"},
{"t":82.85,"m":20.15,"s":"L"},{"t":82.9,"m":20.05,"s":"L"},{"t":82.95,"m":19.95,"s":"L"},{"t":83.0,"m":19.85,"s":"L"},{"t":83.05,"m":19.75,"s":"L"},{"t":83.1,"m":19.67,"s":"L"},{"t":83.15,"m":19.62,"s":"L"},{"t":83.2,"m":19.65,"s":"L"},{"t":83.25,"m":19.67,"s":"L"},
{"t":83.5,"m":20.12,"s":"L"},{"t":83.82,"m":19.57,"s":"L"},{"t":83.85,"m":19.6,"s":"L"},{"t":83.95,"m":19.85,"s":"L"},{"t":84.0,"m":20.0,"s":"L"},{"t":84.05,"m":20.2,"s":"L"},{"t":84.0,"m":20.3,"s":"L"},{"t":84.1,"m":20.35,"s":"L"},
{"t":84.3,"m":19.78,"s":"L"},{"t":84.4,"m":19.72,"s":"L"},{"t":84.45,"m":19.68,"s":"L"},{"t":84.5,"m":19.7,"s":"L"},{"t":84.7,"m":20.3,"s":"L"},{"t":84.75,"m":20.33,"s":"L"},
{"t":84.85,"m":20.12,"s":"L"},{"t":84.9,"m":19.97,"s":"L"},{"t":84.95,"m":19.85,"s":"L"},{"t":85.0,"m":19.75,"s":"L"},{"t":85.05,"m":19.72,"s":"L"},{"t":85.1,"m":19.7,"s":"L"},{"t":85.15,"m":19.8,"s":"L"},{"t":85.2,"m":19.95,"s":"L"},{"t":85.25,"m":20.05,"s":"L"},{"t":85.3,"m":20.1,"s":"L"},{"t":85.35,"m":20.02,"s":"L"},{"t":85.4,"m":20.1,"s":"L"},{"t":85.45,"m":20.25,"s":"L"},{"t":85.45,"m":20.38,"s":"L"},{"t":85.3,"m":20.25,"s":"L"},
{"t":85.6,"m":19.62,"s":"L"},{"t":85.7,"m":19.65,"s":"L"},{"t":85.95,"m":19.95,"s":"L"},{"t":86.0,"m":20.05,"s":"L"},{"t":86.05,"m":20.15,"s":"L"},{"t":86.25,"m":19.63,"s":"L"},{"t":86.3,"m":19.68,"s":"L"},
{"t":86.75,"m":19.55,"s":"L"},{"t":86.8,"m":19.5,"s":"L"},{"t":86.85,"m":19.55,"s":"L"},{"t":86.9,"m":19.6,"s":"L"},{"t":86.95,"m":19.65,"s":"L"},{"t":87.0,"m":19.7,"s":"L"},{"t":87.05,"m":19.8,"s":"L"},{"t":87.1,"m":19.9,"s":"L"},{"t":87.15,"m":19.95,"s":"L"},{"t":87.2,"m":20.05,"s":"L"},{"t":87.25,"m":20.1,"s":"L"},{"t":87.3,"m":20.15,"s":"L"},{"t":87.35,"m":20.05,"s":"L"},{"t":87.3,"m":19.95,"s":"L"},
{"t":87.9,"m":20.0,"s":"L"},{"t":87.92,"m":20.15,"s":"L"},{"t":87.95,"m":20.3,"s":"L"},{"t":88.0,"m":20.2,"s":"L"},{"t":88.02,"m":20.05,"s":"L"},{"t":88.05,"m":19.9,"s":"L"},{"t":88.1,"m":19.75,"s":"L"},{"t":88.15,"m":19.6,"s":"L"},{"t":88.2,"m":19.5,"s":"L"},{"t":88.25,"m":19.48,"s":"L"},{"t":88.3,"m":19.55,"s":"L"},
{"t":88.5,"m":19.9,"s":"L"},{"t":88.55,"m":19.95,"s":"L"},{"t":88.6,"m":20.0,"s":"L"},{"t":88.65,"m":19.97,"s":"L"},{"t":88.7,"m":19.95,"s":"L"},{"t":89.1,"m":19.97,"s":"L"},{"t":89.8,"m":19.95,"s":"L"},{"t":89.85,"m":20.0,"s":"L"},{"t":90.3,"m":19.85,"s":"L"},{"t":90.35,"m":19.95,"s":"L"},{"t":90.9,"m":19.58,"s":"L"},
{"t":92.25,"m":19.75,"s":"L"},{"t":92.3,"m":19.88,"s":"L"},{"t":92.35,"m":19.93,"s":"L"},{"t":92.4,"m":19.95,"s":"L"},{"t":92.7,"m":19.28,"s":"L"},{"t":92.75,"m":19.3,"s":"L"},{"t":92.8,"m":19.4,"s":"L"},{"t":93.25,"m":19.45,"s":"L"},{"t":93.3,"m":19.43,"s":"L"},{"t":93.55,"m":19.7,"s":"L"},{"t":93.6,"m":19.8,"s":"L"},{"t":93.63,"m":19.9,"s":"L"},
{"t":94.1,"m":19.55,"s":"L"},{"t":94.15,"m":19.7,"s":"L"},{"t":94.2,"m":19.85,"s":"L"},{"t":94.25,"m":19.95,"s":"L"},{"t":94.3,"m":20.0,"s":"L"},{"t":94.35,"m":19.95,"s":"L"},{"t":94.4,"m":19.85,"s":"L"},{"t":94.45,"m":19.75,"s":"L"},{"t":94.5,"m":19.6,"s":"L"},{"t":94.55,"m":19.55,"s":"L"},{"t":94.6,"m":19.5,"s":"L"},{"t":94.65,"m":19.45,"s":"L"},{"t":94.7,"m":19.45,"s":"L"},{"t":94.75,"m":19.55,"s":"L"},{"t":94.8,"m":19.6,"s":"L"},{"t":94.85,"m":19.75,"s":"L"},
{"t":94.95,"m":19.7,"s":"L"},{"t":95.0,"m":19.55,"s":"L"},{"t":95.05,"m":19.45,"s":"L"},{"t":95.1,"m":19.35,"s":"L"},{"t":95.15,"m":19.28,"s":"L"},{"t":95.2,"m":19.25,"s":"L"},{"t":95.25,"m":19.22,"s":"L"},{"t":95.3,"m":19.3,"s":"L"},{"t":95.35,"m":19.45,"s":"L"},{"t":95.4,"m":19.6,"s":"L"},{"t":95.42,"m":19.75,"s":"L"},{"t":95.45,"m":19.9,"s":"L"},
{"t":96.0,"m":19.7,"s":"L"},{"t":96.05,"m":19.8,"s":"L"},{"t":96.1,"m":19.9,"s":"L"},{"t":96.2,"m":19.95,"s":"L"},{"t":96.3,"m":19.6,"s":"L"},{"t":96.35,"m":19.5,"s":"L"},{"t":96.45,"m":19.33,"s":"L"},{"t":96.5,"m":19.35,"s":"L"},{"t":96.8,"m":19.9,"s":"L"},{"t":96.85,"m":19.8,"s":"L"},{"t":96.9,"m":19.65,"s":"L"},{"t":97.15,"m":19.25,"s":"L"},{"t":97.2,"m":19.3,"s":"L"},{"t":97.25,"m":19.4,"s":"L"},{"t":97.6,"m":19.38,"s":"L"},
{"t":98.25,"m":19.4,"s":"L"},{"t":98.35,"m":19.25,"s":"L"},{"t":98.4,"m":19.25,"s":"L"},{"t":98.45,"m":19.3,"s":"L"},{"t":98.5,"m":19.35,"s":"L"},{"t":98.55,"m":19.45,"s":"L"},{"t":98.6,"m":19.5,"s":"L"},{"t":99.0,"m":19.35,"s":"L"},{"t":99.3,"m":19.8,"s":"L"},{"t":99.32,"m":19.85,"s":"L"},{"t":99.95,"m":19.85,"s":"L"},{"t":99.97,"m":19.75,"s":"L"},
{"t":100.0,"m":19.9,"s":"L"},{"t":100.03,"m":20.0,"s":"L"},{"t":100.06,"m":19.95,"s":"L"},{"t":100.75,"m":19.35,"s":"L"},{"t":100.8,"m":19.28,"s":"L"},{"t":100.85,"m":19.35,"s":"L"},{"t":100.9,"m":19.45,"s":"L"},{"t":101.9,"m":19.45,"s":"L"},{"t":101.95,"m":19.5,"s":"L"},{"t":102.0,"m":19.55,"s":"L"},{"t":102.05,"m":19.5,"s":"L"},{"t":105.0,"m":19.4,"s":"L"},{"t":105.05,"m":19.5,"s":"L"},{"t":105.1,"m":19.55,"s":"L"},{"t":105.15,"m":19.58,"s":"L"},{"t":105.2,"m":19.5,"s":"L"},{"t":105.95,"m":20.0,"s":"L"},{"t":106.0,"m":20.05,"s":"L"},{"t":107.0,"m":19.5,"s":"L"},{"t":107.05,"m":19.6,"s":"L"},{"t":107.1,"m":19.75,"s":"L"},{"t":107.15,"m":19.85,"s":"L"},{"t":107.2,"m":19.7,"s":"L"},{"t":107.25,"m":19.5,"s":"L"},{"t":107.3,"m":19.4,"s":"L"},{"t":107.4,"m":19.45,"s":"L"},{"t":109.6,"m":19.95,"s":"L"},{"t":109.7,"m":19.8,"s":"L"},
{"t":110.5,"m":19.55,"s":"L"},{"t":110.9,"m":19.7,"s":"L"},{"t":111.0,"m":19.8,"s":"L"},{"t":111.5,"m":19.5,"s":"L"},{"t":111.8,"m":19.55,"s":"L"},{"t":112.3,"m":19.7,"s":"L"},{"t":112.4,"m":19.85,"s":"L"},{"t":112.9,"m":19.85,"s":"L"},{"t":113.35,"m":19.55,"s":"L"},{"t":113.5,"m":19.45,"s":"L"},{"t":113.85,"m":19.55,"s":"L"},{"t":113.9,"m":19.65,"s":"L"},{"t":113.95,"m":19.8,"s":"L"},{"t":114.0,"m":19.9,"s":"L"},{"t":114.05,"m":20.0,"s":"L"},{"t":114.15,"m":19.85,"s":"L"},{"t":114.25,"m":19.65,"s":"L"},{"t":114.3,"m":19.5,"s":"L"},{"t":114.4,"m":19.45,"s":"L"},{"t":114.5,"m":19.6,"s":"L"},{"t":114.8,"m":20.0,"s":"L"},{"t":114.85,"m":19.85,"s":"L"},{"t":114.9,"m":19.65,"s":"L"},{"t":114.95,"m":19.55,"s":"L"},{"t":115.45,"m":19.55,"s":"L"},{"t":116.2,"m":20.1,"s":"L"},{"t":116.3,"m":19.9,"s":"L"},{"t":116.4,"m":19.75,"s":"L"},{"t":116.5,"m":19.6,"s":"L"},{"t":116.65,"m":20.2,"s":"L"},{"t":116.7,"m":20.05,"s":"L"},{"t":116.75,"m":19.9,"s":"L"},{"t":116.8,"m":19.75,"s":"L"},{"t":118.0,"m":20.0,"s":"L"},{"t":118.1,"m":20.15,"s":"L"},{"t":118.2,"m":20.1,"s":"L"},{"t":118.5,"m":19.95,"s":"L"},{"t":118.6,"m":20.1,"s":"L"},{"t":118.8,"m":20.2,"s":"L"},{"t":119.0,"m":20.25,"s":"L"},{"t":119.5,"m":20.2,"s":"L"},{"t":119.6,"m":20.4,"s":"L"},{"t":119.7,"m":20.55,"s":"L"},{"t":119.75,"m":20.45,"s":"L"},{"t":119.8,"m":20.3,"s":"L"},{"t":119.9,"m":20.1,"s":"L"},
{"t":113.82,"m":19.5,"s":"L"},{"t":113.88,"m":19.6,"s":"L"},{"t":113.92,"m":19.72,"s":"L"},{"t":113.98,"m":19.85,"s":"L"},{"t":114.02,"m":19.95,"s":"L"},{"t":114.08,"m":20.02,"s":"L"},{"t":114.1,"m":19.95,"s":"L"},{"t":114.2,"m":19.75,"s":"L"},{"t":114.35,"m":19.48,"s":"L"},{"t":114.62,"m":19.5,"s":"L"},{"t":114.68,"m":19.62,"s":"L"},{"t":114.72,"m":19.75,"s":"L"},{"t":114.78,"m":19.9,"s":"L"},{"t":114.88,"m":19.75,"s":"L"},{"t":115.0,"m":19.5,"s":"L"},{"t":115.1,"m":19.4,"s":"L"},{"t":115.15,"m":19.42,"s":"L"},{"t":116.05,"m":20.15,"s":"L"},{"t":116.1,"m":20.2,"s":"L"},{"t":116.15,"m":20.15,"s":"L"},{"t":116.25,"m":20.0,"s":"L"},{"t":116.35,"m":19.82,"s":"L"},{"t":116.45,"m":19.65,"s":"L"},{"t":116.55,"m":19.55,"s":"L"},{"t":116.6,"m":19.9,"s":"L"},{"t":116.85,"m":19.65,"s":"L"},{"t":119.55,"m":20.3,"s":"L"},{"t":119.65,"m":20.5,"s":"L"},{"t":119.72,"m":20.6,"s":"L"},{"t":119.78,"m":20.4,"s":"L"},{"t":119.85,"m":20.2,"s":"L"},{"t":119.95,"m":19.95,"s":"L"},
{"t":120.05,"m":19.65,"s":"L"},{"t":120.15,"m":19.85,"s":"L"},{"t":120.25,"m":20.1,"s":"L"},{"t":120.3,"m":20.3,"s":"L"},{"t":120.35,"m":20.45,"s":"L"},{"t":120.45,"m":20.25,"s":"L"},{"t":120.5,"m":20.1,"s":"L"},{"t":120.6,"m":19.9,"s":"L"},{"t":120.7,"m":19.75,"s":"L"},{"t":120.75,"m":19.7,"s":"L"},{"t":120.8,"m":19.72,"s":"L"},{"t":121.65,"m":20.1,"s":"L"},{"t":121.75,"m":19.95,"s":"L"},{"t":121.85,"m":19.75,"s":"L"},{"t":121.95,"m":19.7,"s":"L"},{"t":122.05,"m":19.75,"s":"L"},{"t":122.35,"m":20.3,"s":"L"},{"t":122.4,"m":20.5,"s":"L"},{"t":122.45,"m":20.6,"s":"L"},{"t":123.45,"m":20.6,"s":"L"},{"t":123.5,"m":20.45,"s":"L"},{"t":123.55,"m":20.3,"s":"L"},{"t":123.75,"m":19.9,"s":"L"},{"t":123.85,"m":19.8,"s":"L"},{"t":124.05,"m":19.85,"s":"L"},{"t":124.55,"m":19.75,"s":"L"},{"t":124.6,"m":19.65,"s":"L"},{"t":125.8,"m":19.85,"s":"L"},{"t":126.0,"m":20.5,"s":"L"},{"t":126.05,"m":20.6,"s":"L"},{"t":126.1,"m":20.7,"s":"L"},{"t":126.15,"m":20.55,"s":"L"},{"t":127.0,"m":19.75,"s":"L"},{"t":127.05,"m":19.8,"s":"L"},{"t":128.3,"m":20.3,"s":"L"},{"t":128.35,"m":20.45,"s":"L"},{"t":128.65,"m":20.65,"s":"L"},{"t":129.85,"m":20.15,"s":"L"},{"t":130.25,"m":20.2,"s":"L"},{"t":130.9,"m":19.9,"s":"L"},{"t":131.0,"m":20.0,"s":"L"},{"t":131.1,"m":20.2,"s":"L"},{"t":131.2,"m":20.6,"s":"L"},{"t":131.25,"m":20.85,"s":"L"},{"t":131.3,"m":21.0,"s":"L"},{"t":131.95,"m":20.2,"s":"L"},{"t":132.0,"m":20.1,"s":"L"},{"t":132.1,"m":20.0,"s":"L"},{"t":132.15,"m":19.9,"s":"L"},{"t":133.05,"m":20.95,"s":"L"},{"t":133.1,"m":20.85,"s":"L"},{"t":133.15,"m":20.75,"s":"L"},{"t":133.95,"m":19.8,"s":"L"},{"t":134.0,"m":19.9,"s":"L"},{"t":134.05,"m":20.1,"s":"L"},{"t":134.1,"m":20.3,"s":"L"},{"t":134.2,"m":20.45,"s":"L"},{"t":135.05,"m":21.05,"s":"L"},{"t":135.1,"m":20.9,"s":"L"},{"t":135.15,"m":20.6,"s":"L"},{"t":135.2,"m":20.4,"s":"L"},{"t":135.25,"m":20.2,"s":"L"},{"t":136.25,"m":20.6,"s":"L"},{"t":136.3,"m":20.8,"s":"L"},{"t":136.85,"m":20.5,"s":"L"},{"t":138.1,"m":20.5,"s":"L"},{"t":138.15,"m":20.7,"s":"L"},
{"t":120.1,"m":19.75,"s":"L"},{"t":120.2,"m":19.95,"s":"L"},{"t":120.4,"m":20.35,"s":"L"},{"t":120.55,"m":20.0,"s":"L"},{"t":120.65,"m":19.8,"s":"L"},{"t":121.7,"m":20.0,"s":"L"},{"t":121.8,"m":19.85,"s":"L"},{"t":121.9,"m":19.72,"s":"L"},{"t":122.0,"m":19.7,"s":"L"},{"t":123.4,"m":20.7,"s":"L"},{"t":123.6,"m":20.2,"s":"L"},{"t":123.65,"m":20.1,"s":"L"},{"t":123.7,"m":20.0,"s":"L"},{"t":123.8,"m":19.85,"s":"L"},{"t":123.9,"m":19.78,"s":"L"},{"t":124.5,"m":19.8,"s":"L"},{"t":124.65,"m":19.6,"s":"L"},{"t":126.02,"m":20.55,"s":"L"},{"t":126.08,"m":20.65,"s":"L"},{"t":126.12,"m":20.62,"s":"L"},{"t":126.2,"m":20.5,"s":"L"},{"t":131.15,"m":20.4,"s":"L"},{"t":131.22,"m":20.75,"s":"L"},{"t":131.28,"m":20.95,"s":"L"},{"t":132.02,"m":20.05,"s":"L"},{"t":132.05,"m":20.15,"s":"L"},{"t":132.12,"m":19.95,"s":"L"},{"t":132.2,"m":19.88,"s":"L"},{"t":133.08,"m":20.9,"s":"L"},{"t":133.12,"m":20.8,"s":"L"},{"t":133.2,"m":20.7,"s":"L"},{"t":134.02,"m":20.0,"s":"L"},{"t":134.08,"m":20.2,"s":"L"},{"t":134.15,"m":20.35,"s":"L"},{"t":134.25,"m":20.5,"s":"L"},{"t":135.08,"m":21.0,"s":"L"},{"t":135.12,"m":20.75,"s":"L"},{"t":135.18,"m":20.5,"s":"L"},{"t":135.22,"m":20.3,"s":"L"},
{"t":140.15,"m":21.2,"s":"L"},{"t":140.2,"m":21.4,"s":"L"},{"t":140.25,"m":21.3,"s":"L"},{"t":140.45,"m":20.9,"s":"L"},{"t":140.7,"m":20.5,"s":"L"},{"t":140.8,"m":21.2,"s":"L"},{"t":140.85,"m":21.25,"s":"L"},{"t":140.9,"m":21.3,"s":"L"},{"t":140.95,"m":21.2,"s":"L"},{"t":141.0,"m":21.15,"s":"L"},{"t":142.85,"m":21.3,"s":"L"},{"t":143.0,"m":21.1,"s":"L"},{"t":143.6,"m":20.55,"s":"L"},{"t":143.65,"m":20.65,"s":"L"},{"t":143.7,"m":20.75,"s":"L"},{"t":144.2,"m":20.65,"s":"L"},{"t":151.6,"m":21.95,"s":"L"},{"t":153.2,"m":21.1,"s":"L"},{"t":153.25,"m":21.15,"s":"L"},{"t":153.75,"m":21.45,"s":"L"},{"t":155.2,"m":21.5,"s":"L"},
{"t":0.15,"m":23.05,"s":"C"},{"t":0.17,"m":23.12,"s":"C"},{"t":0.19,"m":23.2,"s":"C"},{"t":1.13,"m":21.97,"s":"C"},{"t":1.15,"m":21.92,"s":"C"},{"t":1.17,"m":21.88,"s":"C"},{"t":2.17,"m":22.42,"s":"C"},{"t":2.17,"m":22.48,"s":"C"},{"t":3.15,"m":22.12,"s":"C"},{"t":3.16,"m":22.2,"s":"C"},{"t":3.17,"m":22.16,"s":"C"},{"t":4.16,"m":21.82,"s":"C"},{"t":4.17,"m":21.8,"s":"C"},{"t":5.15,"m":22.6,"s":"C"},{"t":5.16,"m":22.65,"s":"C"},{"t":6.15,"m":21.4,"s":"C"},{"t":6.16,"m":21.38,"s":"C"},{"t":7.15,"m":22.75,"s":"C"},{"t":7.16,"m":22.82,"s":"C"},
{"t":28.13,"m":21.85,"s":"C"},{"t":28.14,"m":21.8,"s":"C"},{"t":28.16,"m":21.72,"s":"C"},{"t":29.12,"m":20.81,"s":"C"},{"t":29.16,"m":20.97,"s":"C"},{"t":29.17,"m":21.0,"s":"C"},{"t":30.1,"m":21.77,"s":"C"},{"t":30.12,"m":21.72,"s":"C"},{"t":30.15,"m":21.6,"s":"C"},{"t":30.17,"m":21.55,"s":"C"},{"t":31.1,"m":21.33,"s":"C"},{"t":31.12,"m":21.4,"s":"C"},{"t":31.14,"m":21.46,"s":"C"},{"t":31.16,"m":21.5,"s":"C"},{"t":32.12,"m":20.97,"s":"C"},{"t":32.14,"m":20.88,"s":"C"},{"t":32.16,"m":20.79,"s":"C"},{"t":32.18,"m":20.73,"s":"C"},{"t":33.12,"m":21.5,"s":"C"},{"t":33.14,"m":21.68,"s":"C"},{"t":33.15,"m":21.78,"s":"C"},{"t":33.16,"m":21.88,"s":"C"},{"t":33.17,"m":21.97,"s":"C"},{"t":34.15,"m":20.92,"s":"C"},{"t":34.17,"m":20.88,"s":"C"},{"t":35.13,"m":21.33,"s":"C"},{"t":35.16,"m":21.42,"s":"C"},{"t":35.18,"m":21.5,"s":"C"},{"t":36.12,"m":20.97,"s":"C"},{"t":36.15,"m":21.04,"s":"C"},{"t":36.18,"m":21.1,"s":"C"},{"t":37.12,"m":21.13,"s":"C"},{"t":37.15,"m":21.05,"s":"C"},{"t":37.18,"m":20.97,"s":"C"},{"t":37.2,"m":20.92,"s":"C"},
{"t":55.05,"m":20.28,"s":"C"},{"t":55.1,"m":20.25,"s":"C"},{"t":55.15,"m":20.3,"s":"C"},{"t":55.2,"m":20.41,"s":"C"},{"t":56.05,"m":21.13,"s":"C"},{"t":56.06,"m":21.2,"s":"C"},{"t":56.08,"m":21.38,"s":"C"},{"t":56.12,"m":21.32,"s":"C"},{"t":56.15,"m":21.27,"s":"C"},{"t":57.03,"m":20.49,"s":"C"},{"t":57.06,"m":20.42,"s":"C"},{"t":57.1,"m":20.39,"s":"C"},{"t":57.14,"m":20.42,"s":"C"},{"t":57.17,"m":20.47,"s":"C"},{"t":58.05,"m":21.22,"s":"C"},{"t":58.08,"m":21.3,"s":"C"},{"t":58.13,"m":21.08,"s":"C"},{"t":58.15,"m":20.93,"s":"C"},{"t":58.16,"m":20.98,"s":"C"},{"t":59.0,"m":20.38,"s":"C"},{"t":59.05,"m":20.37,"s":"C"},{"t":59.1,"m":20.42,"s":"C"},{"t":59.15,"m":20.5,"s":"C"},{"t":59.2,"m":20.56,"s":"C"},
{"t":62.98,"m":20.67,"s":"C"},{"t":63.02,"m":20.8,"s":"C"},{"t":63.07,"m":20.97,"s":"C"},{"t":63.12,"m":20.95,"s":"C"},{"t":63.17,"m":20.85,"s":"C"},{"t":64.0,"m":20.18,"s":"C"},{"t":64.05,"m":20.15,"s":"C"},{"t":64.1,"m":20.3,"s":"C"},{"t":64.15,"m":20.4,"s":"C"},{"t":64.2,"m":20.55,"s":"C"},{"t":64.97,"m":21.0,"s":"C"},{"t":65.02,"m":21.07,"s":"C"},{"t":65.1,"m":20.7,"s":"C"},{"t":65.15,"m":20.45,"s":"C"},{"t":65.2,"m":20.2,"s":"C"},{"t":65.97,"m":20.2,"s":"C"},{"t":66.0,"m":20.15,"s":"C"},{"t":66.05,"m":20.22,"s":"C"},{"t":66.1,"m":20.38,"s":"C"},{"t":66.15,"m":20.55,"s":"C"},{"t":67.02,"m":20.6,"s":"C"},{"t":67.07,"m":20.5,"s":"C"},{"t":67.12,"m":20.35,"s":"C"},{"t":67.18,"m":20.25,"s":"C"},{"t":79.95,"m":19.78,"s":"C"},{"t":79.98,"m":19.74,"s":"C"},
{"t":80.0,"m":19.73,"s":"C"},{"t":80.05,"m":19.8,"s":"C"},{"t":80.1,"m":19.95,"s":"C"},{"t":80.15,"m":20.1,"s":"C"},{"t":80.2,"m":20.2,"s":"C"},{"t":80.95,"m":20.55,"s":"C"},{"t":80.98,"m":20.5,"s":"C"},{"t":81.05,"m":20.4,"s":"C"},{"t":81.1,"m":20.2,"s":"C"},{"t":81.15,"m":20.0,"s":"C"},{"t":81.18,"m":19.88,"s":"C"},{"t":81.88,"m":19.73,"s":"C"},{"t":81.95,"m":19.75,"s":"C"},{"t":82.05,"m":20.05,"s":"C"},{"t":82.1,"m":20.15,"s":"C"},{"t":82.15,"m":20.35,"s":"C"},{"t":82.18,"m":20.42,"s":"C"},{"t":82.9,"m":20.08,"s":"C"},{"t":82.95,"m":20.02,"s":"C"},{"t":83.0,"m":19.92,"s":"C"},{"t":83.88,"m":19.65,"s":"C"},{"t":83.92,"m":19.78,"s":"C"},{"t":83.98,"m":20.1,"s":"C"},{"t":84.02,"m":20.35,"s":"C"},{"t":84.07,"m":20.36,"s":"C"},{"t":84.12,"m":20.25,"s":"C"},{"t":84.15,"m":20.1,"s":"C"},{"t":84.18,"m":19.95,"s":"C"},{"t":84.9,"m":20.05,"s":"C"},{"t":84.95,"m":19.95,"s":"C"},{"t":85.0,"m":19.82,"s":"C"},{"t":85.05,"m":19.7,"s":"C"},{"t":85.1,"m":19.64,"s":"C"},{"t":86.0,"m":20.15,"s":"C"},{"t":86.05,"m":20.18,"s":"C"},{"t":86.1,"m":20.15,"s":"C"},{"t":86.95,"m":19.58,"s":"C"},{"t":87.05,"m":19.72,"s":"C"},{"t":87.15,"m":19.85,"s":"C"},{"t":88.0,"m":20.02,"s":"C"},{"t":88.05,"m":19.88,"s":"C"},{"t":88.1,"m":19.72,"s":"C"},{"t":88.15,"m":19.6,"s":"C"},{"t":88.2,"m":19.52,"s":"C"},
{"t":90.85,"m":19.57,"s":"C"},{"t":90.9,"m":19.67,"s":"C"},{"t":91.15,"m":20.1,"s":"C"},{"t":91.2,"m":19.95,"s":"C"},{"t":91.85,"m":19.67,"s":"C"},{"t":91.9,"m":19.6,"s":"C"},{"t":91.95,"m":19.55,"s":"C"},{"t":92.0,"m":19.5,"s":"C"},{"t":92.05,"m":19.47,"s":"C"},{"t":92.1,"m":19.47,"s":"C"},{"t":92.15,"m":19.55,"s":"C"},{"t":92.2,"m":19.62,"s":"C"},{"t":93.0,"m":19.88,"s":"C"},{"t":93.05,"m":19.8,"s":"C"},{"t":93.1,"m":19.7,"s":"C"},{"t":93.15,"m":19.6,"s":"C"},{"t":93.25,"m":19.48,"s":"C"},{"t":93.9,"m":19.27,"s":"C"},{"t":93.95,"m":19.25,"s":"C"},{"t":94.15,"m":19.78,"s":"C"},{"t":94.85,"m":19.93,"s":"C"},{"t":94.95,"m":19.85,"s":"C"},{"t":95.2,"m":19.3,"s":"C"},{"t":95.85,"m":19.35,"s":"C"},{"t":95.9,"m":19.42,"s":"C"},{"t":96.0,"m":19.6,"s":"C"},{"t":96.1,"m":19.85,"s":"C"},{"t":96.15,"m":19.92,"s":"C"},{"t":96.85,"m":19.85,"s":"C"},{"t":96.9,"m":19.7,"s":"C"},{"t":96.95,"m":19.55,"s":"C"},{"t":97.0,"m":19.45,"s":"C"},{"t":97.05,"m":19.38,"s":"C"},{"t":97.1,"m":19.33,"s":"C"},
{"t":109.55,"m":19.7,"s":"C"},{"t":109.6,"m":19.85,"s":"C"},{"t":110.15,"m":20.0,"s":"C"},{"t":111.05,"m":19.5,"s":"C"},{"t":111.15,"m":19.45,"s":"C"},{"t":111.8,"m":19.65,"s":"C"},{"t":111.85,"m":19.75,"s":"C"},{"t":112.1,"m":19.8,"s":"C"},{"t":112.15,"m":19.9,"s":"C"},{"t":112.85,"m":19.6,"s":"C"},{"t":112.9,"m":19.5,"s":"C"},{"t":112.95,"m":19.45,"s":"C"},{"t":113.8,"m":19.55,"s":"C"},{"t":113.85,"m":19.65,"s":"C"},{"t":114.8,"m":19.6,"s":"C"},{"t":114.85,"m":19.65,"s":"C"},{"t":115.05,"m":19.55,"s":"C"},{"t":115.1,"m":19.45,"s":"C"},{"t":119.0,"m":19.75,"s":"C"},{"t":119.1,"m":19.9,"s":"C"},{"t":119.7,"m":20.1,"s":"C"},{"t":119.75,"m":20.3,"s":"C"},{"t":119.8,"m":20.4,"s":"C"},
{"t":120.0,"m":19.55,"s":"C"},{"t":120.05,"m":19.5,"s":"C"},{"t":120.85,"m":20.35,"s":"C"},{"t":120.9,"m":20.6,"s":"C"},{"t":121.8,"m":19.85,"s":"C"},{"t":121.85,"m":19.8,"s":"C"},{"t":124.75,"m":20.3,"s":"C"},{"t":124.8,"m":20.55,"s":"C"},{"t":124.85,"m":20.2,"s":"C"},{"t":126.05,"m":20.55,"s":"C"},{"t":134.1,"m":20.2,"s":"C"},
{"t":140.3,"m":20.9,"s":"C"},{"t":140.9,"m":21.1,"s":"C"},{"t":140.95,"m":20.95,"s":"C"},{"t":141.0,"m":20.85,"s":"C"},{"t":142.95,"m":20.95,"s":"C"},{"t":143.05,"m":20.7,"s":"C"},{"t":143.1,"m":20.55,"s":"C"},{"t":144.0,"m":21.3,"s":"C"},{"t":144.05,"m":21.45,"s":"C"},{"t":146.85,"m":20.9,"s":"C"},{"t":146.95,"m":20.85,"s":"C"},{"t":147.05,"m":20.8,"s":"C"},{"t":147.85,"m":21.6,"s":"C"},{"t":147.9,"m":21.45,"s":"C"},{"t":147.95,"m":21.3,"s":"C"},{"t":148.9,"m":20.9,"s":"C"},{"t":148.95,"m":21.1,"s":"C"},{"t":149.0,"m":21.4,"s":"C"},{"t":149.05,"m":21.55,"s":"C"},{"t":149.85,"m":21.7,"s":"C"},{"t":149.9,"m":21.4,"s":"C"},{"t":149.95,"m":21.2,"s":"C"},{"t":150.0,"m":21.15,"s":"C"},{"t":150.9,"m":21.55,"s":"C"},{"t":150.95,"m":21.6,"s":"C"},{"t":151.0,"m":21.65,"s":"C"},
{"t":164.8,"m":22.43,"s":"C"},{"t":164.81,"m":22.38,"s":"C"},{"t":164.87,"m":22.2,"s":"C"},{"t":164.88,"m":22.16,"s":"C"},{"t":167.78,"m":21.62,"s":"C"},{"t":167.85,"m":21.7,"s":"C"},{"t":167.86,"m":21.73,"s":"C"},{"t":170.83,"m":22.26,"s":"C"},{"t":170.88,"m":22.12,"s":"C"},{"t":170.89,"m":22.08,"s":"C"}
]
},
"vconcat": [
{"width":1148,"height":125,"layer":[
 {"data":{"name":"obs"},"transform":[{"filter":"datum.t>=0 && datum.t<=20 && (datum.s=='R'||datum.s=='T'||datum.s=='S')"}],"mark":{"type":"circle","size":30,"opacity":1,"clip":true},"encoding":{"x":{"field":"t","type":"quantitative","axis":null},"y":{"field":"m","type":"quantitative","axis":null},"color":{"field":"s","type":"nominal","scale":{"domain":["R","T","S","L","C"],"range":["#808080","#3cc98e","#d95319","#000000","#0000ff"]},"legend":null}}},
 {"data":{"name":"model"},"transform":[{"filter":"datum.t>=-1 && datum.t<=21"}],"mark":{"type":"line","color":"#ff0000","strokeWidth":1,"interpolate":"monotone","clip":true},"encoding":{"x":{"field":"t","type":"quantitative","scale":{"domain":[0,20],"nice":false,"zero":false},"axis":{"values":[0,2,4,6,8,10,12,14,16,18,20],"title":null}},"y":{"field":"m","type":"quantitative","scale":{"domain":[21,23.5],"reverse":true,"nice":false,"zero":false},"axis":{"values":[21,22,23],"title":"mag"}}}},
 {"data":{"name":"obs"},"transform":[{"filter":"datum.t>=0 && datum.t<=20 && (datum.s=='L'||datum.s=='C')"}],"mark":{"type":"circle","size":30,"opacity":1,"clip":true},"encoding":{"x":{"field":"t","type":"quantitative","axis":{"orient":"top","values":[0,2,4,6,8,10,12,14,16,18,20],"title":null}},"y":{"field":"m","type":"quantitative","axis":{"orient":"right","values":[21,22,23],"title":null}},"color":{"field":"s","type":"nominal","scale":{"domain":["R","T","S","L","C"],"range":["#808080","#3cc98e","#d95319","#000000","#0000ff"]},"legend":null}}}
],"resolve":{"axis":{"x":"independent","y":"independent"}}},
{"width":1148,"height":125,"layer":[
 {"data":{"name":"obs"},"transform":[{"filter":"datum.t>=20 && datum.t<=40 && (datum.s=='R'||datum.s=='T'||datum.s=='S')"}],"mark":{"type":"circle","size":30,"opacity":1,"clip":true},"encoding":{"x":{"field":"t","type":"quantitative","axis":null},"y":{"field":"m","type":"quantitative","axis":null},"color":{"field":"s","type":"nominal","scale":{"domain":["R","T","S","L","C"],"range":["#808080","#3cc98e","#d95319","#000000","#0000ff"]},"legend":null}}},
 {"data":{"name":"model"},"transform":[{"filter":"datum.t>=19 && datum.t<=41"}],"mark":{"type":"line","color":"#ff0000","strokeWidth":1,"interpolate":"monotone","clip":true},"encoding":{"x":{"field":"t","type":"quantitative","scale":{"domain":[20,40],"nice":false,"zero":false},"axis":{"values":[20,22,24,26,28,30,32,34,36,38,40],"title":null}},"y":{"field":"m","type":"quantitative","scale":{"domain":[20,22.5],"reverse":true,"nice":false,"zero":false},"axis":{"values":[20,21,22],"title":"mag"}}}},
 {"data":{"name":"obs"},"transform":[{"filter":"datum.t>=20 && datum.t<=40 && (datum.s=='L'||datum.s=='C')"}],"mark":{"type":"circle","size":30,"opacity":1,"clip":true},"encoding":{"x":{"field":"t","type":"quantitative","axis":{"orient":"top","values":[20,22,24,26,28,30,32,34,36,38,40],"title":null}},"y":{"field":"m","type":"quantitative","axis":{"orient":"right","values":[20,21,22],"title":null}},"color":{"field":"s","type":"nominal","scale":{"domain":["R","T","S","L","C"],"range":["#808080","#3cc98e","#d95319","#000000","#0000ff"]},"legend":null}}}
],"resolve":{"axis":{"x":"independent","y":"independent"}}},
{"width":1148,"height":125,"layer":[
 {"data":{"name":"obs"},"transform":[{"filter":"datum.t>=40 && datum.t<=60 && (datum.s=='R'||datum.s=='T'||datum.s=='S')"}],"mark":{"type":"circle","size":30,"opacity":1,"clip":true},"encoding":{"x":{"field":"t","type":"quantitative","axis":null},"y":{"field":"m","type":"quantitative","axis":null},"color":{"field":"s","type":"nominal","scale":{"domain":["R","T","S","L","C"],"range":["#808080","#3cc98e","#d95319","#000000","#0000ff"]},"legend":null}}},
 {"data":{"name":"model"},"transform":[{"filter":"datum.t>=39 && datum.t<=61"}],"mark":{"type":"line","color":"#ff0000","strokeWidth":1,"interpolate":"monotone","clip":true},"encoding":{"x":{"field":"t","type":"quantitative","scale":{"domain":[40,60],"nice":false,"zero":false},"axis":{"values":[40,42,44,46,48,50,52,54,56,58,60],"title":null}},"y":{"field":"m","type":"quantitative","scale":{"domain":[19.5,22],"reverse":true,"nice":false,"zero":false},"axis":{"values":[20,21,22],"title":"mag"}}}},
 {"data":{"name":"obs"},"transform":[{"filter":"datum.t>=40 && datum.t<=60 && (datum.s=='L'||datum.s=='C')"}],"mark":{"type":"circle","size":30,"opacity":1,"clip":true},"encoding":{"x":{"field":"t","type":"quantitative","axis":{"orient":"top","values":[40,42,44,46,48,50,52,54,56,58,60],"title":null}},"y":{"field":"m","type":"quantitative","axis":{"orient":"right","values":[20,21,22],"title":null}},"color":{"field":"s","type":"nominal","scale":{"domain":["R","T","S","L","C"],"range":["#808080","#3cc98e","#d95319","#000000","#0000ff"]},"legend":null}}}
],"resolve":{"axis":{"x":"independent","y":"independent"}}},
{"width":1148,"height":125,"layer":[
 {"data":{"name":"obs"},"transform":[{"filter":"datum.t>=60 && datum.t<=80 && (datum.s=='R'||datum.s=='T'||datum.s=='S')"}],"mark":{"type":"circle","size":30,"opacity":1,"clip":true},"encoding":{"x":{"field":"t","type":"quantitative","axis":null},"y":{"field":"m","type":"quantitative","axis":null},"color":{"field":"s","type":"nominal","scale":{"domain":["R","T","S","L","C"],"range":["#808080","#3cc98e","#d95319","#000000","#0000ff"]},"legend":null}}},
 {"data":{"name":"model"},"transform":[{"filter":"datum.t>=59 && datum.t<=81"}],"mark":{"type":"line","color":"#ff0000","strokeWidth":1,"interpolate":"monotone","clip":true},"encoding":{"x":{"field":"t","type":"quantitative","scale":{"domain":[60,80],"nice":false,"zero":false},"axis":{"values":[60,62,64,66,68,70,72,74,76,78,80],"title":null}},"y":{"field":"m","type":"quantitative","scale":{"domain":[19,21.5],"reverse":true,"nice":false,"zero":false},"axis":{"values":[19,20,21],"title":"mag"}}}},
 {"data":{"name":"obs"},"transform":[{"filter":"datum.t>=60 && datum.t<=80 && (datum.s=='L'||datum.s=='C')"}],"mark":{"type":"circle","size":30,"opacity":1,"clip":true},"encoding":{"x":{"field":"t","type":"quantitative","axis":{"orient":"top","values":[60,62,64,66,68,70,72,74,76,78,80],"title":null}},"y":{"field":"m","type":"quantitative","axis":{"orient":"right","values":[19,20,21],"title":null}},"color":{"field":"s","type":"nominal","scale":{"domain":["R","T","S","L","C"],"range":["#808080","#3cc98e","#d95319","#000000","#0000ff"]},"legend":null}}}
],"resolve":{"axis":{"x":"independent","y":"independent"}}},
{"width":1148,"height":125,"layer":[
 {"data":{"name":"obs"},"transform":[{"filter":"datum.t>=80 && datum.t<=100 && (datum.s=='R'||datum.s=='T'||datum.s=='S')"}],"mark":{"type":"circle","size":30,"opacity":1,"clip":true},"encoding":{"x":{"field":"t","type":"quantitative","axis":null},"y":{"field":"m","type":"quantitative","axis":null},"color":{"field":"s","type":"nominal","scale":{"domain":["R","T","S","L","C"],"range":["#808080","#3cc98e","#d95319","#000000","#0000ff"]},"legend":null}}},
 {"data":{"name":"model"},"transform":[{"filter":"datum.t>=79 && datum.t<=101"}],"mark":{"type":"line","color":"#ff0000","strokeWidth":1,"interpolate":"monotone","clip":true},"encoding":{"x":{"field":"t","type":"quantitative","scale":{"domain":[80,100],"nice":false,"zero":false},"axis":{"values":[80,82,84,86,88,90,92,94,96,98,100],"title":null}},"y":{"field":"m","type":"quantitative","scale":{"domain":[18.5,21],"reverse":true,"nice":false,"zero":false},"axis":{"values":[19,20,21],"title":"mag"}}}},
 {"data":{"name":"obs"},"transform":[{"filter":"datum.t>=80 && datum.t<=100 && (datum.s=='L'||datum.s=='C')"}],"mark":{"type":"circle","size":30,"opacity":1,"clip":true},"encoding":{"x":{"field":"t","type":"quantitative","axis":{"orient":"top","values":[80,82,84,86,88,90,92,94,96,98,100],"title":null}},"y":{"field":"m","type":"quantitative","axis":{"orient":"right","values":[19,20,21],"title":null}},"color":{"field":"s","type":"nominal","scale":{"domain":["R","T","S","L","C"],"range":["#808080","#3cc98e","#d95319","#000000","#0000ff"]},"legend":null}}}
],"resolve":{"axis":{"x":"independent","y":"independent"}}},
{"width":1148,"height":125,"layer":[
 {"data":{"name":"obs"},"transform":[{"filter":"datum.t>=100 && datum.t<=120 && (datum.s=='R'||datum.s=='T'||datum.s=='S')"}],"mark":{"type":"circle","size":30,"opacity":1,"clip":true},"encoding":{"x":{"field":"t","type":"quantitative","axis":null},"y":{"field":"m","type":"quantitative","axis":null},"color":{"field":"s","type":"nominal","scale":{"domain":["R","T","S","L","C"],"range":["#808080","#3cc98e","#d95319","#000000","#0000ff"]},"legend":null}}},
 {"data":{"name":"model"},"transform":[{"filter":"datum.t>=99 && datum.t<=121"}],"mark":{"type":"line","color":"#ff0000","strokeWidth":1,"interpolate":"monotone","clip":true},"encoding":{"x":{"field":"t","type":"quantitative","scale":{"domain":[100,120],"nice":false,"zero":false},"axis":{"values":[100,102,104,106,108,110,112,114,116,118,120],"title":null}},"y":{"field":"m","type":"quantitative","scale":{"domain":[18.5,21],"reverse":true,"nice":false,"zero":false},"axis":{"values":[19,20,21],"title":"mag"}}}},
 {"data":{"name":"obs"},"transform":[{"filter":"datum.t>=100 && datum.t<=120 && (datum.s=='L'||datum.s=='C')"}],"mark":{"type":"circle","size":30,"opacity":1,"clip":true},"encoding":{"x":{"field":"t","type":"quantitative","axis":{"orient":"top","values":[100,102,104,106,108,110,112,114,116,118,120],"title":null}},"y":{"field":"m","type":"quantitative","axis":{"orient":"right","values":[19,20,21],"title":null}},"color":{"field":"s","type":"nominal","scale":{"domain":["R","T","S","L","C"],"range":["#808080","#3cc98e","#d95319","#000000","#0000ff"]},"legend":null}}}
],"resolve":{"axis":{"x":"independent","y":"independent"}}},
{"width":1148,"height":125,"layer":[
 {"data":{"name":"obs"},"transform":[{"filter":"datum.t>=120 && datum.t<=140 && (datum.s=='R'||datum.s=='T'||datum.s=='S')"}],"mark":{"type":"circle","size":30,"opacity":1,"clip":true},"encoding":{"x":{"field":"t","type":"quantitative","axis":null},"y":{"field":"m","type":"quantitative","axis":null},"color":{"field":"s","type":"nominal","scale":{"domain":["R","T","S","L","C"],"range":["#808080","#3cc98e","#d95319","#000000","#0000ff"]},"legend":null}}},
 {"data":{"name":"model"},"transform":[{"filter":"datum.t>=119 && datum.t<=141"}],"mark":{"type":"line","color":"#ff0000","strokeWidth":1,"interpolate":"monotone","clip":true},"encoding":{"x":{"field":"t","type":"quantitative","scale":{"domain":[120,140],"nice":false,"zero":false},"axis":{"values":[120,122,124,126,128,130,132,134,136,138,140],"title":null}},"y":{"field":"m","type":"quantitative","scale":{"domain":[19,21.5],"reverse":true,"nice":false,"zero":false},"axis":{"values":[19,20,21],"title":"mag"}}}},
 {"data":{"name":"obs"},"transform":[{"filter":"datum.t>=120 && datum.t<=140 && (datum.s=='L'||datum.s=='C')"}],"mark":{"type":"circle","size":30,"opacity":1,"clip":true},"encoding":{"x":{"field":"t","type":"quantitative","axis":{"orient":"top","values":[120,122,124,126,128,130,132,134,136,138,140],"title":null}},"y":{"field":"m","type":"quantitative","axis":{"orient":"right","values":[19,20,21],"title":null}},"color":{"field":"s","type":"nominal","scale":{"domain":["R","T","S","L","C"],"range":["#808080","#3cc98e","#d95319","#000000","#0000ff"]},"legend":null}}}
],"resolve":{"axis":{"x":"independent","y":"independent"}}},
{"width":1148,"height":125,"layer":[
 {"data":{"name":"obs"},"transform":[{"filter":"datum.t>=140 && datum.t<=160 && (datum.s=='R'||datum.s=='T'||datum.s=='S')"}],"mark":{"type":"circle","size":30,"opacity":1,"clip":true},"encoding":{"x":{"field":"t","type":"quantitative","axis":null},"y":{"field":"m","type":"quantitative","axis":null},"color":{"field":"s","type":"nominal","scale":{"domain":["R","T","S","L","C"],"range":["#808080","#3cc98e","#d95319","#000000","#0000ff"]},"legend":null}}},
 {"data":{"name":"model"},"transform":[{"filter":"datum.t>=139 && datum.t<=161"}],"mark":{"type":"line","color":"#ff0000","strokeWidth":1,"interpolate":"monotone","clip":true},"encoding":{"x":{"field":"t","type":"quantitative","scale":{"domain":[140,160],"nice":false,"zero":false},"axis":{"values":[140,142,144,146,148,150,152,154,156,158,160],"title":null}},"y":{"field":"m","type":"quantitative","scale":{"domain":[20,22.5],"reverse":true,"nice":false,"zero":false},"axis":{"values":[20,21,22],"title":"mag"}}}},
 {"data":{"name":"obs"},"transform":[{"filter":"datum.t>=140 && datum.t<=160 && (datum.s=='L'||datum.s=='C')"}],"mark":{"type":"circle","size":30,"opacity":1,"clip":true},"encoding":{"x":{"field":"t","type":"quantitative","axis":{"orient":"top","values":[140,142,144,146,148,150,152,154,156,158,160],"title":null}},"y":{"field":"m","type":"quantitative","axis":{"orient":"right","values":[20,21,22],"title":null}},"color":{"field":"s","type":"nominal","scale":{"domain":["R","T","S","L","C"],"range":["#808080","#3cc98e","#d95319","#000000","#0000ff"]},"legend":null}}}
],"resolve":{"axis":{"x":"independent","y":"independent"}}},
{"width":1148,"height":125,"layer":[
 {"data":{"name":"obs"},"transform":[{"filter":"datum.t>=160 && datum.t<=180 && (datum.s=='R'||datum.s=='T'||datum.s=='S')"}],"mark":{"type":"circle","size":30,"opacity":1,"clip":true},"encoding":{"x":{"field":"t","type":"quantitative","axis":null},"y":{"field":"m","type":"quantitative","axis":null},"color":{"field":"s","type":"nominal","scale":{"domain":["R","T","S","L","C"],"range":["#808080","#3cc98e","#d95319","#000000","#0000ff"]},"legend":{"orient":"none","legendX":992,"legendY":9,"title":null,"labelExpr":"datum.label=='R'?'relative data':datum.label=='T'?'TRAPPIST':datum.label=='S'?'TESS':datum.label=='L'?'Lee et al. (2022)':'calibrated data'"}}}},
 {"data":{"name":"model"},"transform":[{"filter":"datum.t>=159 && datum.t<=181"}],"mark":{"type":"line","color":"#ff0000","strokeWidth":1,"interpolate":"monotone","clip":true},"encoding":{"x":{"field":"t","type":"quantitative","scale":{"domain":[160,180],"nice":false,"zero":false},"axis":{"values":[160,162,164,166,168,170,172,174,176,178,180],"title":"JD - 2459169.676"}},"y":{"field":"m","type":"quantitative","scale":{"domain":[21,23.5],"reverse":true,"nice":false,"zero":false},"axis":{"values":[21,22,23],"title":"mag"}}}},
 {"data":{"name":"obs"},"transform":[{"filter":"datum.t>=160 && datum.t<=180 && (datum.s=='L'||datum.s=='C')"}],"mark":{"type":"circle","size":30,"opacity":1,"clip":true},"encoding":{"x":{"field":"t","type":"quantitative","axis":{"orient":"top","values":[160,162,164,166,168,170,172,174,176,178,180],"title":null}},"y":{"field":"m","type":"quantitative","axis":{"orient":"right","values":[21,22,23],"title":null}},"color":{"field":"s","type":"nominal","scale":{"domain":["R","T","S","L","C"],"range":["#808080","#3cc98e","#d95319","#000000","#0000ff"]},"legend":{"orient":"none","legendX":992,"legendY":9,"title":null,"labelExpr":"datum.label=='R'?'relative data':datum.label=='T'?'TRAPPIST':datum.label=='S'?'TESS':datum.label=='L'?'Lee et al. (2022)':'calibrated data'"}}}}
],"resolve":{"axis":{"x":"independent","y":"independent"}}}
]
}
